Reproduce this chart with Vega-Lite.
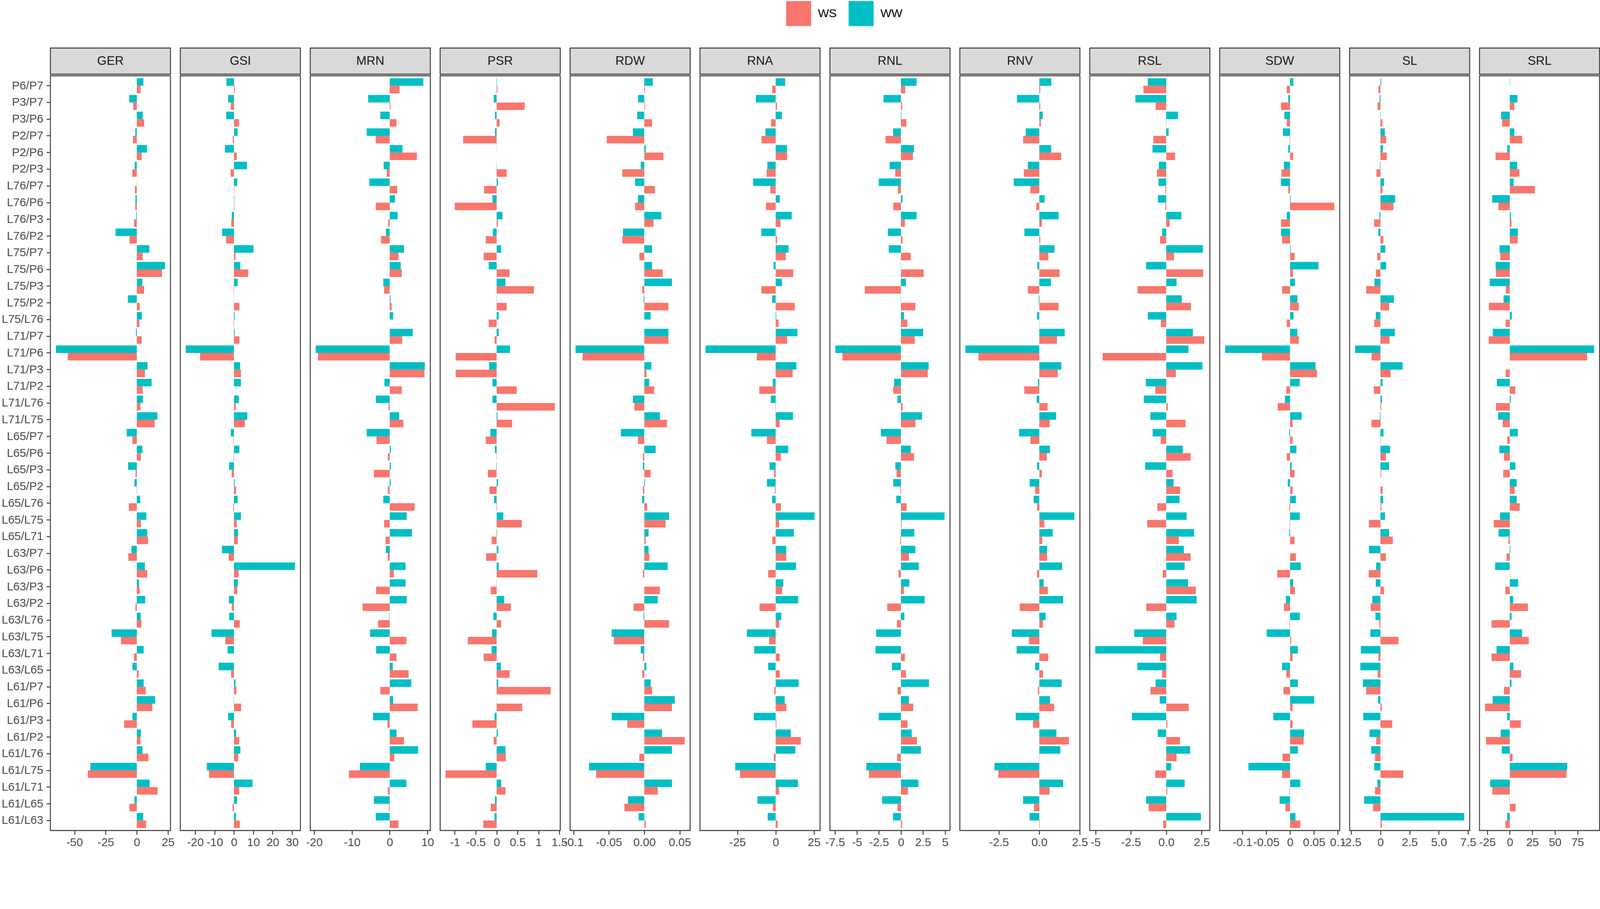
{
  "$schema": "https://vega.github.io/schema/vega-lite/v6.json",
  "background": "white",
  "padding": {"left": 2, "top": 2, "right": 0, "bottom": 0},
  "datasets": {
    "d": [
      {"t":"GER","p":"P6/P7","e":"WW","v":5.3},{"t":"GER","p":"P6/P7","e":"WS","v":3.1},
      {"t":"GER","p":"P3/P7","e":"WW","v":-6.1},{"t":"GER","p":"P3/P7","e":"WS","v":-2.9},
      {"t":"GER","p":"P3/P6","e":"WW","v":4.7},{"t":"GER","p":"P3/P6","e":"WS","v":5.9},
      {"t":"GER","p":"P2/P7","e":"WW","v":-1.2},{"t":"GER","p":"P2/P7","e":"WS","v":-3.1},
      {"t":"GER","p":"P2/P6","e":"WW","v":8.1},{"t":"GER","p":"P2/P6","e":"WS","v":3.9},
      {"t":"GER","p":"P2/P3","e":"WW","v":-1.7},{"t":"GER","p":"P2/P3","e":"WS","v":-3.6},
      {"t":"GER","p":"L76/P7","e":"WW","v":-0.1},{"t":"GER","p":"L76/P7","e":"WS","v":-1.5},
      {"t":"GER","p":"L76/P6","e":"WW","v":-1.1},{"t":"GER","p":"L76/P6","e":"WS","v":-1.2},
      {"t":"GER","p":"L76/P3","e":"WW","v":-0.5},{"t":"GER","p":"L76/P3","e":"WS","v":-2.2},
      {"t":"GER","p":"L76/P2","e":"WW","v":-17.1},{"t":"GER","p":"L76/P2","e":"WS","v":-5.8},
      {"t":"GER","p":"L75/P7","e":"WW","v":10.1},{"t":"GER","p":"L75/P7","e":"WS","v":4.7},
      {"t":"GER","p":"L75/P6","e":"WW","v":22.6},{"t":"GER","p":"L75/P6","e":"WS","v":20.2},
      {"t":"GER","p":"L75/P3","e":"WW","v":4.5},{"t":"GER","p":"L75/P3","e":"WS","v":5.9},
      {"t":"GER","p":"L75/P2","e":"WW","v":-7.2},{"t":"GER","p":"L75/P2","e":"WS","v":2.3},
      {"t":"GER","p":"L75/L76","e":"WW","v":4.1},{"t":"GER","p":"L75/L76","e":"WS","v":2.1},
      {"t":"GER","p":"L71/P7","e":"WW","v":-0.7},{"t":"GER","p":"L71/P7","e":"WS","v":3.9},
      {"t":"GER","p":"L71/P6","e":"WW","v":-64.9},{"t":"GER","p":"L71/P6","e":"WS","v":-55.4},
      {"t":"GER","p":"L71/P3","e":"WW","v":8.6},{"t":"GER","p":"L71/P3","e":"WS","v":6.6},
      {"t":"GER","p":"L71/P2","e":"WW","v":11.9},{"t":"GER","p":"L71/P2","e":"WS","v":4.7},
      {"t":"GER","p":"L71/L76","e":"WW","v":4.9},{"t":"GER","p":"L71/L76","e":"WS","v":2.9},
      {"t":"GER","p":"L71/L75","e":"WW","v":16.5},{"t":"GER","p":"L71/L75","e":"WS","v":14.3},
      {"t":"GER","p":"L65/P7","e":"WW","v":-8.1},{"t":"GER","p":"L65/P7","e":"WS","v":-3.6},
      {"t":"GER","p":"L65/P6","e":"WW","v":4.5},{"t":"GER","p":"L65/P6","e":"WS","v":3.3},
      {"t":"GER","p":"L65/P3","e":"WW","v":-7.0},{"t":"GER","p":"L65/P3","e":"WS","v":-1.0},
      {"t":"GER","p":"L65/P2","e":"WW","v":-1.9},{"t":"GER","p":"L65/P2","e":"WS","v":0.3},
      {"t":"GER","p":"L65/L76","e":"WW","v":2.7},{"t":"GER","p":"L65/L76","e":"WS","v":-6.4},
      {"t":"GER","p":"L65/L75","e":"WW","v":7.7},{"t":"GER","p":"L65/L75","e":"WS","v":3.3},
      {"t":"GER","p":"L65/L71","e":"WW","v":8.4},{"t":"GER","p":"L65/L71","e":"WS","v":9.1},
      {"t":"GER","p":"L63/P7","e":"WW","v":-4.3},{"t":"GER","p":"L63/P7","e":"WS","v":-6.8},
      {"t":"GER","p":"L63/P6","e":"WW","v":6.5},{"t":"GER","p":"L63/P6","e":"WS","v":8.4},
      {"t":"GER","p":"L63/P3","e":"WW","v":1.7},{"t":"GER","p":"L63/P3","e":"WS","v":2.3},
      {"t":"GER","p":"L63/P2","e":"WW","v":6.7},{"t":"GER","p":"L63/P2","e":"WS","v":-1.1},
      {"t":"GER","p":"L63/L76","e":"WW","v":3.1},{"t":"GER","p":"L63/L76","e":"WS","v":3.7},
      {"t":"GER","p":"L63/L75","e":"WW","v":-20.2},{"t":"GER","p":"L63/L75","e":"WS","v":-12.7},
      {"t":"GER","p":"L63/L71","e":"WW","v":5.5},{"t":"GER","p":"L63/L71","e":"WS","v":-2.3},
      {"t":"GER","p":"L63/L65","e":"WW","v":-3.5},{"t":"GER","p":"L63/L65","e":"WS","v":1.5},
      {"t":"GER","p":"L61/P7","e":"WW","v":5.5},{"t":"GER","p":"L61/P7","e":"WS","v":7.1},
      {"t":"GER","p":"L61/P6","e":"WW","v":14.7},{"t":"GER","p":"L61/P6","e":"WS","v":12.5},
      {"t":"GER","p":"L61/P3","e":"WW","v":-3.5},{"t":"GER","p":"L61/P3","e":"WS","v":-10.2},
      {"t":"GER","p":"L61/P2","e":"WW","v":3.3},{"t":"GER","p":"L61/P2","e":"WS","v":2.9},
      {"t":"GER","p":"L61/L76","e":"WW","v":4.5},{"t":"GER","p":"L61/L76","e":"WS","v":9.3},
      {"t":"GER","p":"L61/L75","e":"WW","v":-37.3},{"t":"GER","p":"L61/L75","e":"WS","v":-39.3},
      {"t":"GER","p":"L61/L71","e":"WW","v":10.3},{"t":"GER","p":"L61/L71","e":"WS","v":16.7},
      {"t":"GER","p":"L61/L65","e":"WW","v":-1.9},{"t":"GER","p":"L61/L65","e":"WS","v":-5.9},
      {"t":"GER","p":"L61/L63","e":"WW","v":5.1},{"t":"GER","p":"L61/L63","e":"WS","v":7.5},

      {"t":"GSI","p":"P6/P7","e":"WW","v":-3.9},{"t":"GSI","p":"P6/P7","e":"WS","v":0.4},
      {"t":"GSI","p":"P3/P7","e":"WW","v":-3.0},{"t":"GSI","p":"P3/P7","e":"WS","v":-1.6},
      {"t":"GSI","p":"P3/P6","e":"WW","v":-4.0},{"t":"GSI","p":"P3/P6","e":"WS","v":2.6},
      {"t":"GSI","p":"P2/P7","e":"WW","v":1.9},{"t":"GSI","p":"P2/P7","e":"WS","v":-0.6},
      {"t":"GSI","p":"P2/P6","e":"WW","v":-4.6},{"t":"GSI","p":"P2/P6","e":"WS","v":1.4},
      {"t":"GSI","p":"P2/P3","e":"WW","v":6.7},{"t":"GSI","p":"P2/P3","e":"WS","v":-1.7},
      {"t":"GSI","p":"L76/P7","e":"WW","v":1.7},{"t":"GSI","p":"L76/P7","e":"WS","v":0.2},
      {"t":"GSI","p":"L76/P6","e":"WW","v":0.2},{"t":"GSI","p":"L76/P6","e":"WS","v":0.2},
      {"t":"GSI","p":"L76/P3","e":"WW","v":-1.1},{"t":"GSI","p":"L76/P3","e":"WS","v":-1.4},
      {"t":"GSI","p":"L76/P2","e":"WW","v":-6.1},{"t":"GSI","p":"L76/P2","e":"WS","v":-4.1},
      {"t":"GSI","p":"L75/P7","e":"WW","v":10.1},{"t":"GSI","p":"L75/P7","e":"WS","v":0.8},
      {"t":"GSI","p":"L75/P6","e":"WW","v":3.3},{"t":"GSI","p":"L75/P6","e":"WS","v":7.4},
      {"t":"GSI","p":"L75/P3","e":"WW","v":1.9},{"t":"GSI","p":"L75/P3","e":"WS","v":-0.2},
      {"t":"GSI","p":"L75/P2","e":"WW","v":-0.1},{"t":"GSI","p":"L75/P2","e":"WS","v":2.8},
      {"t":"GSI","p":"L75/L76","e":"WW","v":0.4},{"t":"GSI","p":"L75/L76","e":"WS","v":-0.2},
      {"t":"GSI","p":"L71/P7","e":"WW","v":0.4},{"t":"GSI","p":"L71/P7","e":"WS","v":2.8},
      {"t":"GSI","p":"L71/P6","e":"WW","v":-24.9},{"t":"GSI","p":"L71/P6","e":"WS","v":-17.5},
      {"t":"GSI","p":"L71/P3","e":"WW","v":3.2},{"t":"GSI","p":"L71/P3","e":"WS","v":3.6},
      {"t":"GSI","p":"L71/P2","e":"WW","v":3.6},{"t":"GSI","p":"L71/P2","e":"WS","v":0.0},
      {"t":"GSI","p":"L71/L76","e":"WW","v":2.5},{"t":"GSI","p":"L71/L76","e":"WS","v":0.9},
      {"t":"GSI","p":"L71/L75","e":"WW","v":6.9},{"t":"GSI","p":"L71/L75","e":"WS","v":5.6},
      {"t":"GSI","p":"L65/P7","e":"WW","v":-1.6},{"t":"GSI","p":"L65/P7","e":"WS","v":-0.2},
      {"t":"GSI","p":"L65/P6","e":"WW","v":2.8},{"t":"GSI","p":"L65/P6","e":"WS","v":-0.2},
      {"t":"GSI","p":"L65/P3","e":"WW","v":-2.5},{"t":"GSI","p":"L65/P3","e":"WS","v":-1.2},
      {"t":"GSI","p":"L65/P2","e":"WW","v":0.4},{"t":"GSI","p":"L65/P2","e":"WS","v":1.1},
      {"t":"GSI","p":"L65/L76","e":"WW","v":1.9},{"t":"GSI","p":"L65/L76","e":"WS","v":-0.4},
      {"t":"GSI","p":"L65/L75","e":"WW","v":3.6},{"t":"GSI","p":"L65/L75","e":"WS","v":1.4},
      {"t":"GSI","p":"L65/L71","e":"WW","v":2.1},{"t":"GSI","p":"L65/L71","e":"WS","v":2.0},
      {"t":"GSI","p":"L63/P7","e":"WW","v":-6.2},{"t":"GSI","p":"L63/P7","e":"WS","v":-2.7},
      {"t":"GSI","p":"L63/P6","e":"WW","v":31.5},{"t":"GSI","p":"L63/P6","e":"WS","v":2.4},
      {"t":"GSI","p":"L63/P3","e":"WW","v":2.0},{"t":"GSI","p":"L63/P3","e":"WS","v":1.7},
      {"t":"GSI","p":"L63/P2","e":"WW","v":-2.6},{"t":"GSI","p":"L63/P2","e":"WS","v":-1.1},
      {"t":"GSI","p":"L63/L76","e":"WW","v":-2.5},{"t":"GSI","p":"L63/L76","e":"WS","v":3.0},
      {"t":"GSI","p":"L63/L75","e":"WW","v":-11.6},{"t":"GSI","p":"L63/L75","e":"WS","v":-4.5},
      {"t":"GSI","p":"L63/L71","e":"WW","v":-3.3},{"t":"GSI","p":"L63/L71","e":"WS","v":0.0},
      {"t":"GSI","p":"L63/L65","e":"WW","v":-7.9},{"t":"GSI","p":"L63/L65","e":"WS","v":-1.5},
      {"t":"GSI","p":"L61/P7","e":"WW","v":0.8},{"t":"GSI","p":"L61/P7","e":"WS","v":1.3},
      {"t":"GSI","p":"L61/P6","e":"WW","v":-0.1},{"t":"GSI","p":"L61/P6","e":"WS","v":3.7},
      {"t":"GSI","p":"L61/P3","e":"WW","v":-3.0},{"t":"GSI","p":"L61/P3","e":"WS","v":-1.5},
      {"t":"GSI","p":"L61/P2","e":"WW","v":1.1},{"t":"GSI","p":"L61/P2","e":"WS","v":2.7},
      {"t":"GSI","p":"L61/L76","e":"WW","v":3.3},{"t":"GSI","p":"L61/L76","e":"WS","v":2.2},
      {"t":"GSI","p":"L61/L75","e":"WW","v":-14.0},{"t":"GSI","p":"L61/L75","e":"WS","v":-12.9},
      {"t":"GSI","p":"L61/L71","e":"WW","v":9.6},{"t":"GSI","p":"L61/L71","e":"WS","v":2.7},
      {"t":"GSI","p":"L61/L65","e":"WW","v":1.6},{"t":"GSI","p":"L61/L65","e":"WS","v":-0.7},
      {"t":"GSI","p":"L61/L63","e":"WW","v":1.0},{"t":"GSI","p":"L61/L63","e":"WS","v":3.0},

      {"t":"MRN","p":"P6/P7","e":"WW","v":8.9},{"t":"MRN","p":"P6/P7","e":"WS","v":2.6},
      {"t":"MRN","p":"P3/P7","e":"WW","v":-5.7},{"t":"MRN","p":"P3/P7","e":"WS","v":0.2},
      {"t":"MRN","p":"P3/P6","e":"WW","v":-2.5},{"t":"MRN","p":"P3/P6","e":"WS","v":1.8},
      {"t":"MRN","p":"P2/P7","e":"WW","v":-6.1},{"t":"MRN","p":"P2/P7","e":"WS","v":-3.7},
      {"t":"MRN","p":"P2/P6","e":"WW","v":3.4},{"t":"MRN","p":"P2/P6","e":"WS","v":7.2},
      {"t":"MRN","p":"P2/P3","e":"WW","v":-1.6},{"t":"MRN","p":"P2/P3","e":"WS","v":-0.8},
      {"t":"MRN","p":"L76/P7","e":"WW","v":-5.4},{"t":"MRN","p":"L76/P7","e":"WS","v":2.0},
      {"t":"MRN","p":"L76/P6","e":"WW","v":1.4},{"t":"MRN","p":"L76/P6","e":"WS","v":-3.7},
      {"t":"MRN","p":"L76/P3","e":"WW","v":2.1},{"t":"MRN","p":"L76/P3","e":"WS","v":-0.4},
      {"t":"MRN","p":"L76/P2","e":"WW","v":-1.0},{"t":"MRN","p":"L76/P2","e":"WS","v":-2.3},
      {"t":"MRN","p":"L75/P7","e":"WW","v":3.8},{"t":"MRN","p":"L75/P7","e":"WS","v":2.3},
      {"t":"MRN","p":"L75/P6","e":"WW","v":2.9},{"t":"MRN","p":"L75/P6","e":"WS","v":3.2},
      {"t":"MRN","p":"L75/P3","e":"WW","v":-1.7},{"t":"MRN","p":"L75/P3","e":"WS","v":-1.5},
      {"t":"MRN","p":"L75/P2","e":"WW","v":0.2},{"t":"MRN","p":"L75/P2","e":"WS","v":0.5},
      {"t":"MRN","p":"L75/L76","e":"WW","v":0.9},{"t":"MRN","p":"L75/L76","e":"WS","v":0.0},
      {"t":"MRN","p":"L71/P7","e":"WW","v":6.1},{"t":"MRN","p":"L71/P7","e":"WS","v":3.3},
      {"t":"MRN","p":"L71/P6","e":"WW","v":-19.6},{"t":"MRN","p":"L71/P6","e":"WS","v":-19.0},
      {"t":"MRN","p":"L71/P3","e":"WW","v":9.3},{"t":"MRN","p":"L71/P3","e":"WS","v":9.2},
      {"t":"MRN","p":"L71/P2","e":"WW","v":-1.4},{"t":"MRN","p":"L71/P2","e":"WS","v":3.2},
      {"t":"MRN","p":"L71/L76","e":"WW","v":-3.7},{"t":"MRN","p":"L71/L76","e":"WS","v":-0.3},
      {"t":"MRN","p":"L71/L75","e":"WW","v":2.5},{"t":"MRN","p":"L71/L75","e":"WS","v":3.6},
      {"t":"MRN","p":"L65/P7","e":"WW","v":-6.1},{"t":"MRN","p":"L65/P7","e":"WS","v":-3.5},
      {"t":"MRN","p":"L65/P6","e":"WW","v":0.3},{"t":"MRN","p":"L65/P6","e":"WS","v":-0.5},
      {"t":"MRN","p":"L65/P3","e":"WW","v":0.3},{"t":"MRN","p":"L65/P3","e":"WS","v":-4.2},
      {"t":"MRN","p":"L65/P2","e":"WW","v":0.25},{"t":"MRN","p":"L65/P2","e":"WS","v":-0.5},
      {"t":"MRN","p":"L65/L76","e":"WW","v":-1.7},{"t":"MRN","p":"L65/L76","e":"WS","v":6.6},
      {"t":"MRN","p":"L65/L75","e":"WW","v":4.5},{"t":"MRN","p":"L65/L75","e":"WS","v":-1.5},
      {"t":"MRN","p":"L65/L71","e":"WW","v":5.9},{"t":"MRN","p":"L65/L71","e":"WS","v":-1.1},
      {"t":"MRN","p":"L63/P7","e":"WW","v":-1.0},{"t":"MRN","p":"L63/P7","e":"WS","v":-0.5},
      {"t":"MRN","p":"L63/P6","e":"WW","v":4.2},{"t":"MRN","p":"L63/P6","e":"WS","v":1.1},
      {"t":"MRN","p":"L63/P3","e":"WW","v":4.2},{"t":"MRN","p":"L63/P3","e":"WS","v":-3.6},
      {"t":"MRN","p":"L63/P2","e":"WW","v":4.5},{"t":"MRN","p":"L63/P2","e":"WS","v":-7.2},
      {"t":"MRN","p":"L63/L76","e":"WW","v":-0.1},{"t":"MRN","p":"L63/L76","e":"WS","v":-3.1},
      {"t":"MRN","p":"L63/L75","e":"WW","v":-5.2},{"t":"MRN","p":"L63/L75","e":"WS","v":4.4},
      {"t":"MRN","p":"L63/L71","e":"WW","v":-3.6},{"t":"MRN","p":"L63/L71","e":"WS","v":1.8},
      {"t":"MRN","p":"L63/L65","e":"WW","v":0.8},{"t":"MRN","p":"L63/L65","e":"WS","v":5.0},
      {"t":"MRN","p":"L61/P7","e":"WW","v":5.7},{"t":"MRN","p":"L61/P7","e":"WS","v":-2.5},
      {"t":"MRN","p":"L61/P6","e":"WW","v":0.9},{"t":"MRN","p":"L61/P6","e":"WS","v":7.4},
      {"t":"MRN","p":"L61/P3","e":"WW","v":-4.4},{"t":"MRN","p":"L61/P3","e":"WS","v":-0.6},
      {"t":"MRN","p":"L61/P2","e":"WW","v":1.8},{"t":"MRN","p":"L61/P2","e":"WS","v":3.8},
      {"t":"MRN","p":"L61/L76","e":"WW","v":7.5},{"t":"MRN","p":"L61/L76","e":"WS","v":1.2},
      {"t":"MRN","p":"L61/L75","e":"WW","v":-7.9},{"t":"MRN","p":"L61/L75","e":"WS","v":-10.8},
      {"t":"MRN","p":"L61/L71","e":"WW","v":4.4},{"t":"MRN","p":"L61/L71","e":"WS","v":-0.5},
      {"t":"MRN","p":"L61/L65","e":"WW","v":-4.2},{"t":"MRN","p":"L61/L65","e":"WS","v":-0.2},
      {"t":"MRN","p":"L61/L63","e":"WW","v":-3.7},{"t":"MRN","p":"L61/L63","e":"WS","v":2.3},

      {"t":"PSR","p":"P6/P7","e":"WW","v":-0.01},{"t":"PSR","p":"P6/P7","e":"WS","v":0.02},
      {"t":"PSR","p":"P3/P7","e":"WW","v":-0.07},{"t":"PSR","p":"P3/P7","e":"WS","v":0.67},
      {"t":"PSR","p":"P3/P6","e":"WW","v":-0.04},{"t":"PSR","p":"P3/P6","e":"WS","v":0.07},
      {"t":"PSR","p":"P2/P7","e":"WW","v":-0.04},{"t":"PSR","p":"P2/P7","e":"WS","v":-0.8},
      {"t":"PSR","p":"P2/P6","e":"WW","v":0.003},{"t":"PSR","p":"P2/P6","e":"WS","v":0},
      {"t":"PSR","p":"P2/P3","e":"WW","v":-0.005},{"t":"PSR","p":"P2/P3","e":"WS","v":0.24},
      {"t":"PSR","p":"L76/P7","e":"WW","v":0.03},{"t":"PSR","p":"L76/P7","e":"WS","v":-0.3},
      {"t":"PSR","p":"L76/P6","e":"WW","v":-0.1},{"t":"PSR","p":"L76/P6","e":"WS","v":-1.0},
      {"t":"PSR","p":"L76/P3","e":"WW","v":0.14},{"t":"PSR","p":"L76/P3","e":"WS","v":0.03},
      {"t":"PSR","p":"L76/P2","e":"WW","v":-0.09},{"t":"PSR","p":"L76/P2","e":"WS","v":-0.26},
      {"t":"PSR","p":"L75/P7","e":"WW","v":0.11},{"t":"PSR","p":"L75/P7","e":"WS","v":-0.31},
      {"t":"PSR","p":"L75/P6","e":"WW","v":-0.19},{"t":"PSR","p":"L75/P6","e":"WS","v":0.31},
      {"t":"PSR","p":"L75/P3","e":"WW","v":0.21},{"t":"PSR","p":"L75/P3","e":"WS","v":0.89},
      {"t":"PSR","p":"L75/P2","e":"WW","v":-0.005},{"t":"PSR","p":"L75/P2","e":"WS","v":0.24},
      {"t":"PSR","p":"L75/L76","e":"WW","v":0.05},{"t":"PSR","p":"L75/L76","e":"WS","v":-0.19},
      {"t":"PSR","p":"L71/P7","e":"WW","v":0.05},{"t":"PSR","p":"L71/P7","e":"WS","v":-0.05},
      {"t":"PSR","p":"L71/P6","e":"WW","v":0.32},{"t":"PSR","p":"L71/P6","e":"WS","v":-0.98},
      {"t":"PSR","p":"L71/P3","e":"WW","v":-0.18},{"t":"PSR","p":"L71/P3","e":"WS","v":-0.98},
      {"t":"PSR","p":"L71/P2","e":"WW","v":-0.1},{"t":"PSR","p":"L71/P2","e":"WS","v":0.48},
      {"t":"PSR","p":"L71/L76","e":"WW","v":-0.1},{"t":"PSR","p":"L71/L76","e":"WS","v":1.39},
      {"t":"PSR","p":"L71/L75","e":"WW","v":0.02},{"t":"PSR","p":"L71/L75","e":"WS","v":0.37},
      {"t":"PSR","p":"L65/P7","e":"WW","v":-0.15},{"t":"PSR","p":"L65/P7","e":"WS","v":-0.26},
      {"t":"PSR","p":"L65/P6","e":"WW","v":-0.04},{"t":"PSR","p":"L65/P6","e":"WS","v":-0.005},
      {"t":"PSR","p":"L65/P3","e":"WW","v":-0.01},{"t":"PSR","p":"L65/P3","e":"WS","v":-0.21},
      {"t":"PSR","p":"L65/P2","e":"WW","v":0.03},{"t":"PSR","p":"L65/P2","e":"WS","v":-0.17},
      {"t":"PSR","p":"L65/L76","e":"WW","v":-0.06},{"t":"PSR","p":"L65/L76","e":"WS","v":0.01},
      {"t":"PSR","p":"L65/L75","e":"WW","v":0.16},{"t":"PSR","p":"L65/L75","e":"WS","v":0.6},
      {"t":"PSR","p":"L65/L71","e":"WW","v":0.01},{"t":"PSR","p":"L65/L71","e":"WS","v":-0.12},
      {"t":"PSR","p":"L63/P7","e":"WW","v":0.04},{"t":"PSR","p":"L63/P7","e":"WS","v":-0.25},
      {"t":"PSR","p":"L63/P6","e":"WW","v":0.05},{"t":"PSR","p":"L63/P6","e":"WS","v":0.97},
      {"t":"PSR","p":"L63/P3","e":"WW","v":-0.005},{"t":"PSR","p":"L63/P3","e":"WS","v":-0.14},
      {"t":"PSR","p":"L63/P2","e":"WW","v":0.18},{"t":"PSR","p":"L63/P2","e":"WS","v":0.34},
      {"t":"PSR","p":"L63/L76","e":"WW","v":-0.08},{"t":"PSR","p":"L63/L76","e":"WS","v":0.11},
      {"t":"PSR","p":"L63/L75","e":"WW","v":-0.11},{"t":"PSR","p":"L63/L75","e":"WS","v":-0.69},
      {"t":"PSR","p":"L63/L71","e":"WW","v":-0.12},{"t":"PSR","p":"L63/L71","e":"WS","v":-0.31},
      {"t":"PSR","p":"L63/L65","e":"WW","v":0.1},{"t":"PSR","p":"L63/L65","e":"WS","v":0.31},
      {"t":"PSR","p":"L61/P7","e":"WW","v":0.04},{"t":"PSR","p":"L61/P7","e":"WS","v":1.29},
      {"t":"PSR","p":"L61/P6","e":"WW","v":0.003},{"t":"PSR","p":"L61/P6","e":"WS","v":0.61},
      {"t":"PSR","p":"L61/P3","e":"WW","v":-0.05},{"t":"PSR","p":"L61/P3","e":"WS","v":-0.58},
      {"t":"PSR","p":"L61/P2","e":"WW","v":0.03},{"t":"PSR","p":"L61/P2","e":"WS","v":-0.07},
      {"t":"PSR","p":"L61/L76","e":"WW","v":0.21},{"t":"PSR","p":"L61/L76","e":"WS","v":0.22},
      {"t":"PSR","p":"L61/L75","e":"WW","v":-0.26},{"t":"PSR","p":"L61/L75","e":"WS","v":-1.22},
      {"t":"PSR","p":"L61/L71","e":"WW","v":0.11},{"t":"PSR","p":"L61/L71","e":"WS","v":0.21},
      {"t":"PSR","p":"L61/L65","e":"WW","v":-0.04},{"t":"PSR","p":"L61/L65","e":"WS","v":-0.14},
      {"t":"PSR","p":"L61/L63","e":"WW","v":-0.05},{"t":"PSR","p":"L61/L63","e":"WS","v":-0.32},

      {"t":"RDW","p":"P6/P7","e":"WW","v":0.012},{"t":"RDW","p":"P6/P7","e":"WS","v":0.001},
      {"t":"RDW","p":"P3/P7","e":"WW","v":-0.0088},{"t":"RDW","p":"P3/P7","e":"WS","v":0.001},
      {"t":"RDW","p":"P3/P6","e":"WW","v":-0.01},{"t":"RDW","p":"P3/P6","e":"WS","v":0.011},
      {"t":"RDW","p":"P2/P7","e":"WW","v":-0.016},{"t":"RDW","p":"P2/P7","e":"WS","v":-0.053},
      {"t":"RDW","p":"P2/P6","e":"WW","v":0.002},{"t":"RDW","p":"P2/P6","e":"WS","v":0.027},
      {"t":"RDW","p":"P2/P3","e":"WW","v":-0.005},{"t":"RDW","p":"P2/P3","e":"WS","v":-0.031},
      {"t":"RDW","p":"L76/P7","e":"WW","v":-0.013},{"t":"RDW","p":"L76/P7","e":"WS","v":0.015},
      {"t":"RDW","p":"L76/P6","e":"WW","v":-0.0088},{"t":"RDW","p":"L76/P6","e":"WS","v":-0.013},
      {"t":"RDW","p":"L76/P3","e":"WW","v":0.024},{"t":"RDW","p":"L76/P3","e":"WS","v":0.013},
      {"t":"RDW","p":"L76/P2","e":"WW","v":-0.03},{"t":"RDW","p":"L76/P2","e":"WS","v":-0.031},
      {"t":"RDW","p":"L75/P7","e":"WW","v":0.011},{"t":"RDW","p":"L75/P7","e":"WS","v":-0.007},
      {"t":"RDW","p":"L75/P6","e":"WW","v":0.011},{"t":"RDW","p":"L75/P6","e":"WS","v":0.026},
      {"t":"RDW","p":"L75/P3","e":"WW","v":0.039},{"t":"RDW","p":"L75/P3","e":"WS","v":-0.003},
      {"t":"RDW","p":"L75/P2","e":"WW","v":-0.001},{"t":"RDW","p":"L75/P2","e":"WS","v":0.034},
      {"t":"RDW","p":"L75/L76","e":"WW","v":0.009},{"t":"RDW","p":"L75/L76","e":"WS","v":0},
      {"t":"RDW","p":"L71/P7","e":"WW","v":0.034},{"t":"RDW","p":"L71/P7","e":"WS","v":0.034},
      {"t":"RDW","p":"L71/P6","e":"WW","v":-0.097},{"t":"RDW","p":"L71/P6","e":"WS","v":-0.087},
      {"t":"RDW","p":"L71/P3","e":"WW","v":0.01},{"t":"RDW","p":"L71/P3","e":"WS","v":0.003},
      {"t":"RDW","p":"L71/P2","e":"WW","v":0.007},{"t":"RDW","p":"L71/P2","e":"WS","v":0.014},
      {"t":"RDW","p":"L71/L76","e":"WW","v":-0.016},{"t":"RDW","p":"L71/L76","e":"WS","v":-0.014},
      {"t":"RDW","p":"L71/L75","e":"WW","v":0.022},{"t":"RDW","p":"L71/L75","e":"WS","v":0.032},
      {"t":"RDW","p":"L65/P7","e":"WW","v":-0.033},{"t":"RDW","p":"L65/P7","e":"WS","v":-0.009},
      {"t":"RDW","p":"L65/P6","e":"WW","v":0.016},{"t":"RDW","p":"L65/P6","e":"WS","v":-0.002},
      {"t":"RDW","p":"L65/P3","e":"WW","v":-0.002},{"t":"RDW","p":"L65/P3","e":"WS","v":0.009},
      {"t":"RDW","p":"L65/P2","e":"WW","v":0.001},{"t":"RDW","p":"L65/P2","e":"WS","v":-0.002},
      {"t":"RDW","p":"L65/L76","e":"WW","v":-0.003},{"t":"RDW","p":"L65/L76","e":"WS","v":0.004},
      {"t":"RDW","p":"L65/L75","e":"WW","v":0.035},{"t":"RDW","p":"L65/L75","e":"WS","v":0.03},
      {"t":"RDW","p":"L65/L71","e":"WW","v":0.006},{"t":"RDW","p":"L65/L71","e":"WS","v":0.002},
      {"t":"RDW","p":"L63/P7","e":"WW","v":0.006},{"t":"RDW","p":"L63/P7","e":"WS","v":0.007},
      {"t":"RDW","p":"L63/P6","e":"WW","v":0.033},{"t":"RDW","p":"L63/P6","e":"WS","v":-0.002},
      {"t":"RDW","p":"L63/P3","e":"WW","v":0},{"t":"RDW","p":"L63/P3","e":"WS","v":0.022},
      {"t":"RDW","p":"L63/P2","e":"WW","v":0.019},{"t":"RDW","p":"L63/P2","e":"WS","v":-0.015},
      {"t":"RDW","p":"L63/L76","e":"WW","v":-0.001},{"t":"RDW","p":"L63/L76","e":"WS","v":0.035},
      {"t":"RDW","p":"L63/L75","e":"WW","v":-0.046},{"t":"RDW","p":"L63/L75","e":"WS","v":-0.043},
      {"t":"RDW","p":"L63/L71","e":"WW","v":-0.005},{"t":"RDW","p":"L63/L71","e":"WS","v":-0.002},
      {"t":"RDW","p":"L63/L65","e":"WW","v":0.003},{"t":"RDW","p":"L63/L65","e":"WS","v":-0.003},
      {"t":"RDW","p":"L61/P7","e":"WW","v":0.009},{"t":"RDW","p":"L61/P7","e":"WS","v":0.011},
      {"t":"RDW","p":"L61/P6","e":"WW","v":0.043},{"t":"RDW","p":"L61/P6","e":"WS","v":0.039},
      {"t":"RDW","p":"L61/P3","e":"WW","v":-0.046},{"t":"RDW","p":"L61/P3","e":"WS","v":-0.024},
      {"t":"RDW","p":"L61/P2","e":"WW","v":0.025},{"t":"RDW","p":"L61/P2","e":"WS","v":0.057},
      {"t":"RDW","p":"L61/L76","e":"WW","v":0.039},{"t":"RDW","p":"L61/L76","e":"WS","v":-0.007},
      {"t":"RDW","p":"L61/L75","e":"WW","v":-0.078},{"t":"RDW","p":"L61/L75","e":"WS","v":-0.068},
      {"t":"RDW","p":"L61/L71","e":"WW","v":0.039},{"t":"RDW","p":"L61/L71","e":"WS","v":0.019},
      {"t":"RDW","p":"L61/L65","e":"WW","v":-0.023},{"t":"RDW","p":"L61/L65","e":"WS","v":-0.028},
      {"t":"RDW","p":"L61/L63","e":"WW","v":-0.008},{"t":"RDW","p":"L61/L63","e":"WS","v":0.002},

      {"t":"RNA","p":"P6/P7","e":"WW","v":6.2},{"t":"RNA","p":"P6/P7","e":"WS","v":-2.3},
      {"t":"RNA","p":"P3/P7","e":"WW","v":-12.9},{"t":"RNA","p":"P3/P7","e":"WS","v":0.9},
      {"t":"RNA","p":"P3/P6","e":"WW","v":4.1},{"t":"RNA","p":"P3/P6","e":"WS","v":-3.0},
      {"t":"RNA","p":"P2/P7","e":"WW","v":-6.7},{"t":"RNA","p":"P2/P7","e":"WS","v":-9.2},
      {"t":"RNA","p":"P2/P6","e":"WW","v":7.3},{"t":"RNA","p":"P2/P6","e":"WS","v":7.5},
      {"t":"RNA","p":"P2/P3","e":"WW","v":-5.4},{"t":"RNA","p":"P2/P3","e":"WS","v":-5.9},
      {"t":"RNA","p":"L76/P7","e":"WW","v":-14.7},{"t":"RNA","p":"L76/P7","e":"WS","v":-3.5},
      {"t":"RNA","p":"L76/P6","e":"WW","v":2.7},{"t":"RNA","p":"L76/P6","e":"WS","v":-6.3},
      {"t":"RNA","p":"L76/P3","e":"WW","v":10.5},{"t":"RNA","p":"L76/P3","e":"WS","v":3.1},
      {"t":"RNA","p":"L76/P2","e":"WW","v":-9.4},{"t":"RNA","p":"L76/P2","e":"WS","v":0.9},
      {"t":"RNA","p":"L75/P7","e":"WW","v":8.4},{"t":"RNA","p":"L75/P7","e":"WS","v":6.6},
      {"t":"RNA","p":"L75/P6","e":"WW","v":-1.4},{"t":"RNA","p":"L75/P6","e":"WS","v":11.5},
      {"t":"RNA","p":"L75/P3","e":"WW","v":4.1},{"t":"RNA","p":"L75/P3","e":"WS","v":-9.3},
      {"t":"RNA","p":"L75/P2","e":"WW","v":-2.3},{"t":"RNA","p":"L75/P2","e":"WS","v":12.5},
      {"t":"RNA","p":"L75/L76","e":"WW","v":0.4},{"t":"RNA","p":"L75/L76","e":"WS","v":1.9},
      {"t":"RNA","p":"L71/P7","e":"WW","v":14.2},{"t":"RNA","p":"L71/P7","e":"WS","v":7.5},
      {"t":"RNA","p":"L71/P6","e":"WW","v":-45.8},{"t":"RNA","p":"L71/P6","e":"WS","v":-12.3},
      {"t":"RNA","p":"L71/P3","e":"WW","v":13.5},{"t":"RNA","p":"L71/P3","e":"WS","v":11.1},
      {"t":"RNA","p":"L71/P2","e":"WW","v":-1.9},{"t":"RNA","p":"L71/P2","e":"WS","v":-10.7},
      {"t":"RNA","p":"L71/L76","e":"WW","v":-3.2},{"t":"RNA","p":"L71/L76","e":"WS","v":-0.2},
      {"t":"RNA","p":"L71/L75","e":"WW","v":11.3},{"t":"RNA","p":"L71/L75","e":"WS","v":2.6},
      {"t":"RNA","p":"L65/P7","e":"WW","v":-15.9},{"t":"RNA","p":"L65/P7","e":"WS","v":-5.7},
      {"t":"RNA","p":"L65/P6","e":"WW","v":8.2},{"t":"RNA","p":"L65/P6","e":"WS","v":3.4},
      {"t":"RNA","p":"L65/P3","e":"WW","v":-4.0},{"t":"RNA","p":"L65/P3","e":"WS","v":-1.1},
      {"t":"RNA","p":"L65/P2","e":"WW","v":-5.7},{"t":"RNA","p":"L65/P2","e":"WS","v":-0.5},
      {"t":"RNA","p":"L65/L76","e":"WW","v":-2.3},{"t":"RNA","p":"L65/L76","e":"WS","v":3.5},
      {"t":"RNA","p":"L65/L75","e":"WW","v":25.4},{"t":"RNA","p":"L65/L75","e":"WS","v":2.3},
      {"t":"RNA","p":"L65/L71","e":"WW","v":11.9},{"t":"RNA","p":"L65/L71","e":"WS","v":-2.2},
      {"t":"RNA","p":"L63/P7","e":"WW","v":7.0},{"t":"RNA","p":"L63/P7","e":"WS","v":6.9},
      {"t":"RNA","p":"L63/P6","e":"WW","v":13.3},{"t":"RNA","p":"L63/P6","e":"WS","v":-4.9},
      {"t":"RNA","p":"L63/P3","e":"WW","v":5.0},{"t":"RNA","p":"L63/P3","e":"WS","v":4.3},
      {"t":"RNA","p":"L63/P2","e":"WW","v":14.7},{"t":"RNA","p":"L63/P2","e":"WS","v":-10.5},
      {"t":"RNA","p":"L63/L76","e":"WW","v":3.7},{"t":"RNA","p":"L63/L76","e":"WS","v":2.3},
      {"t":"RNA","p":"L63/L75","e":"WW","v":-18.8},{"t":"RNA","p":"L63/L75","e":"WS","v":-4.3},
      {"t":"RNA","p":"L63/L71","e":"WW","v":-14.0},{"t":"RNA","p":"L63/L71","e":"WS","v":2.6},
      {"t":"RNA","p":"L63/L65","e":"WW","v":-4.9},{"t":"RNA","p":"L63/L65","e":"WS","v":2.7},
      {"t":"RNA","p":"L61/P7","e":"WW","v":15.0},{"t":"RNA","p":"L61/P7","e":"WS","v":-0.9},
      {"t":"RNA","p":"L61/P6","e":"WW","v":5.9},{"t":"RNA","p":"L61/P6","e":"WS","v":7.0},
      {"t":"RNA","p":"L61/P3","e":"WW","v":-14.3},{"t":"RNA","p":"L61/P3","e":"WS","v":0.5},
      {"t":"RNA","p":"L61/P2","e":"WW","v":9.9},{"t":"RNA","p":"L61/P2","e":"WS","v":16.4},
      {"t":"RNA","p":"L61/L76","e":"WW","v":12.9},{"t":"RNA","p":"L61/L76","e":"WS","v":-1.2},
      {"t":"RNA","p":"L61/L75","e":"WW","v":-26.4},{"t":"RNA","p":"L61/L75","e":"WS","v":-23.3},
      {"t":"RNA","p":"L61/L71","e":"WW","v":14.6},{"t":"RNA","p":"L61/L71","e":"WS","v":2.2},
      {"t":"RNA","p":"L61/L65","e":"WW","v":-11.9},{"t":"RNA","p":"L61/L65","e":"WS","v":-1.8},
      {"t":"RNA","p":"L61/L63","e":"WW","v":-5.2},{"t":"RNA","p":"L61/L63","e":"WS","v":1.3},

      {"t":"RNL","p":"P6/P7","e":"WW","v":1.78},{"t":"RNL","p":"P6/P7","e":"WS","v":0.49},
      {"t":"RNL","p":"P3/P7","e":"WW","v":-1.98},{"t":"RNL","p":"P3/P7","e":"WS","v":0.14},
      {"t":"RNL","p":"P3/P6","e":"WW","v":0.05},{"t":"RNL","p":"P3/P6","e":"WS","v":0.61},
      {"t":"RNL","p":"P2/P7","e":"WW","v":-0.88},{"t":"RNL","p":"P2/P7","e":"WS","v":-1.75},
      {"t":"RNL","p":"P2/P6","e":"WW","v":1.48},{"t":"RNL","p":"P2/P6","e":"WS","v":1.36},
      {"t":"RNL","p":"P2/P3","e":"WW","v":-1.28},{"t":"RNL","p":"P2/P3","e":"WS","v":-0.64},
      {"t":"RNL","p":"L76/P7","e":"WW","v":-2.52},{"t":"RNL","p":"L76/P7","e":"WS","v":-0.34},
      {"t":"RNL","p":"L76/P6","e":"WW","v":0.18},{"t":"RNL","p":"L76/P6","e":"WS","v":-0.88},
      {"t":"RNL","p":"L76/P3","e":"WW","v":1.78},{"t":"RNL","p":"L76/P3","e":"WS","v":0.45},
      {"t":"RNL","p":"L76/P2","e":"WW","v":-1.48},{"t":"RNL","p":"L76/P2","e":"WS","v":0.19},
      {"t":"RNL","p":"L75/P7","e":"WW","v":-1.38},{"t":"RNL","p":"L75/P7","e":"WS","v":1.11},
      {"t":"RNL","p":"L75/P6","e":"WW","v":-0.03},{"t":"RNL","p":"L75/P6","e":"WS","v":2.58},
      {"t":"RNL","p":"L75/P3","e":"WW","v":0.57},{"t":"RNL","p":"L75/P3","e":"WS","v":-4.1},
      {"t":"RNL","p":"L75/P2","e":"WW","v":-0.03},{"t":"RNL","p":"L75/P2","e":"WS","v":1.64},
      {"t":"RNL","p":"L75/L76","e":"WW","v":0.35},{"t":"RNL","p":"L75/L76","e":"WS","v":0.73},
      {"t":"RNL","p":"L71/P7","e":"WW","v":2.52},{"t":"RNL","p":"L71/P7","e":"WS","v":1.57},
      {"t":"RNL","p":"L71/P6","e":"WW","v":-7.44},{"t":"RNL","p":"L71/P6","e":"WS","v":-6.65},
      {"t":"RNL","p":"L71/P3","e":"WW","v":3.15},{"t":"RNL","p":"L71/P3","e":"WS","v":3.04},
      {"t":"RNL","p":"L71/P2","e":"WW","v":-0.77},{"t":"RNL","p":"L71/P2","e":"WS","v":-0.88},
      {"t":"RNL","p":"L71/L76","e":"WW","v":-0.39},{"t":"RNL","p":"L71/L76","e":"WS","v":0.19},
      {"t":"RNL","p":"L71/L75","e":"WW","v":2.4},{"t":"RNL","p":"L71/L75","e":"WS","v":1.64},
      {"t":"RNL","p":"L65/P7","e":"WW","v":-2.27},{"t":"RNL","p":"L65/P7","e":"WS","v":-1.63},
      {"t":"RNL","p":"L65/P6","e":"WW","v":1.11},{"t":"RNL","p":"L65/P6","e":"WS","v":1.48},
      {"t":"RNL","p":"L65/P3","e":"WW","v":-0.64},{"t":"RNL","p":"L65/P3","e":"WS","v":-0.5},
      {"t":"RNL","p":"L65/P2","e":"WW","v":-0.88},{"t":"RNL","p":"L65/P2","e":"WS","v":-0.09},
      {"t":"RNL","p":"L65/L76","e":"WW","v":-0.53},{"t":"RNL","p":"L65/L76","e":"WS","v":0.65},
      {"t":"RNL","p":"L65/L75","e":"WW","v":4.95},{"t":"RNL","p":"L65/L75","e":"WS","v":0.09},
      {"t":"RNL","p":"L65/L71","e":"WW","v":1.53},{"t":"RNL","p":"L65/L71","e":"WS","v":-0.09},
      {"t":"RNL","p":"L63/P7","e":"WW","v":1.64},{"t":"RNL","p":"L63/P7","e":"WS","v":0.91},
      {"t":"RNL","p":"L63/P6","e":"WW","v":2.02},{"t":"RNL","p":"L63/P6","e":"WS","v":-0.28},
      {"t":"RNL","p":"L63/P3","e":"WW","v":0.95},{"t":"RNL","p":"L63/P3","e":"WS","v":0.35},
      {"t":"RNL","p":"L63/P2","e":"WW","v":2.69},{"t":"RNL","p":"L63/P2","e":"WS","v":-1.55},
      {"t":"RNL","p":"L63/L76","e":"WW","v":0.39},{"t":"RNL","p":"L63/L76","e":"WS","v":-0.46},
      {"t":"RNL","p":"L63/L75","e":"WW","v":-2.81},{"t":"RNL","p":"L63/L75","e":"WS","v":-0.01},
      {"t":"RNL","p":"L63/L71","e":"WW","v":-2.89},{"t":"RNL","p":"L63/L71","e":"WS","v":0.45},
      {"t":"RNL","p":"L63/L65","e":"WW","v":-1.02},{"t":"RNL","p":"L63/L65","e":"WS","v":0.57},
      {"t":"RNL","p":"L61/P7","e":"WW","v":3.19},{"t":"RNL","p":"L61/P7","e":"WS","v":-0.39},
      {"t":"RNL","p":"L61/P6","e":"WW","v":0.9},{"t":"RNL","p":"L61/P6","e":"WS","v":1.4},
      {"t":"RNL","p":"L61/P3","e":"WW","v":-2.52},{"t":"RNL","p":"L61/P3","e":"WS","v":0.75},
      {"t":"RNL","p":"L61/P2","e":"WW","v":1.23},{"t":"RNL","p":"L61/P2","e":"WS","v":1.82},
      {"t":"RNL","p":"L61/L76","e":"WW","v":2.27},{"t":"RNL","p":"L61/L76","e":"WS","v":-0.43},
      {"t":"RNL","p":"L61/L75","e":"WW","v":-3.93},{"t":"RNL","p":"L61/L75","e":"WS","v":-3.64},
      {"t":"RNL","p":"L61/L71","e":"WW","v":1.98},{"t":"RNL","p":"L61/L71","e":"WS","v":0.81},
      {"t":"RNL","p":"L61/L65","e":"WW","v":-2.14},{"t":"RNL","p":"L61/L65","e":"WS","v":-0.39},
      {"t":"RNL","p":"L61/L63","e":"WW","v":-0.9},{"t":"RNL","p":"L61/L63","e":"WS","v":0.14},

      {"t":"RNV","p":"P6/P7","e":"WW","v":0.74},{"t":"RNV","p":"P6/P7","e":"WS","v":0.06},
      {"t":"RNV","p":"P3/P7","e":"WW","v":-1.38},{"t":"RNV","p":"P3/P7","e":"WS","v":0.06},
      {"t":"RNV","p":"P3/P6","e":"WW","v":0.21},{"t":"RNV","p":"P3/P6","e":"WS","v":0.1},
      {"t":"RNV","p":"P2/P7","e":"WW","v":-0.84},{"t":"RNV","p":"P2/P7","e":"WS","v":-1.0},
      {"t":"RNV","p":"P2/P6","e":"WW","v":0.74},{"t":"RNV","p":"P2/P6","e":"WS","v":1.35},
      {"t":"RNV","p":"P2/P3","e":"WW","v":-0.71},{"t":"RNV","p":"P2/P3","e":"WS","v":-0.96},
      {"t":"RNV","p":"L76/P7","e":"WW","v":-1.58},{"t":"RNV","p":"L76/P7","e":"WS","v":-0.55},
      {"t":"RNV","p":"L76/P6","e":"WW","v":0.33},{"t":"RNV","p":"L76/P6","e":"WS","v":-0.19},
      {"t":"RNV","p":"L76/P3","e":"WW","v":1.19},{"t":"RNV","p":"L76/P3","e":"WS","v":0.16},
      {"t":"RNV","p":"L76/P2","e":"WW","v":-0.92},{"t":"RNV","p":"L76/P2","e":"WS","v":0.06},
      {"t":"RNV","p":"L75/P7","e":"WW","v":0.94},{"t":"RNV","p":"L75/P7","e":"WS","v":0.56},
      {"t":"RNV","p":"L75/P6","e":"WW","v":-0.12},{"t":"RNV","p":"L75/P6","e":"WS","v":1.25},
      {"t":"RNV","p":"L75/P3","e":"WW","v":0.72},{"t":"RNV","p":"L75/P3","e":"WS","v":-0.71},
      {"t":"RNV","p":"L75/P2","e":"WW","v":-0.04},{"t":"RNV","p":"L75/P2","e":"WS","v":1.19},
      {"t":"RNV","p":"L75/L76","e":"WW","v":-0.14},{"t":"RNV","p":"L75/L76","e":"WS","v":-0.015},
      {"t":"RNV","p":"L71/P7","e":"WW","v":1.57},{"t":"RNV","p":"L71/P7","e":"WS","v":1.09},
      {"t":"RNV","p":"L71/P6","e":"WW","v":-4.57},{"t":"RNV","p":"L71/P6","e":"WS","v":-3.76},
      {"t":"RNV","p":"L71/P3","e":"WW","v":1.36},{"t":"RNV","p":"L71/P3","e":"WS","v":1.14},
      {"t":"RNV","p":"L71/P2","e":"WW","v":-0.08},{"t":"RNV","p":"L71/P2","e":"WS","v":-0.93},
      {"t":"RNV","p":"L71/L76","e":"WW","v":-0.16},{"t":"RNV","p":"L71/L76","e":"WS","v":0.51},
      {"t":"RNV","p":"L71/L75","e":"WW","v":1.04},{"t":"RNV","p":"L71/L75","e":"WS","v":0.64},
      {"t":"RNV","p":"L65/P7","e":"WW","v":-1.25},{"t":"RNV","p":"L65/P7","e":"WS","v":-0.55},
      {"t":"RNV","p":"L65/P6","e":"WW","v":0.66},{"t":"RNV","p":"L65/P6","e":"WS","v":0.47},
      {"t":"RNV","p":"L65/P3","e":"WW","v":-0.14},{"t":"RNV","p":"L65/P3","e":"WS","v":0.16},
      {"t":"RNV","p":"L65/P2","e":"WW","v":-0.6},{"t":"RNV","p":"L65/P2","e":"WS","v":-0.26},
      {"t":"RNV","p":"L65/L76","e":"WW","v":-0.35},{"t":"RNV","p":"L65/L76","e":"WS","v":-0.14},
      {"t":"RNV","p":"L65/L75","e":"WW","v":2.17},{"t":"RNV","p":"L65/L75","e":"WS","v":0.31},
      {"t":"RNV","p":"L65/L71","e":"WW","v":0.83},{"t":"RNV","p":"L65/L71","e":"WS","v":0.18},
      {"t":"RNV","p":"L63/P7","e":"WW","v":0.48},{"t":"RNV","p":"L63/P7","e":"WS","v":0.48},
      {"t":"RNV","p":"L63/P6","e":"WW","v":1.41},{"t":"RNV","p":"L63/P6","e":"WS","v":-0.14},
      {"t":"RNV","p":"L63/P3","e":"WW","v":0.27},{"t":"RNV","p":"L63/P3","e":"WS","v":0.53},
      {"t":"RNV","p":"L63/P2","e":"WW","v":1.47},{"t":"RNV","p":"L63/P2","e":"WS","v":-1.21},
      {"t":"RNV","p":"L63/L76","e":"WW","v":0.39},{"t":"RNV","p":"L63/L76","e":"WS","v":0.23},
      {"t":"RNV","p":"L63/L75","e":"WW","v":-1.7},{"t":"RNV","p":"L63/L75","e":"WS","v":-0.64},
      {"t":"RNV","p":"L63/L71","e":"WW","v":-1.4},{"t":"RNV","p":"L63/L71","e":"WS","v":0.55},
      {"t":"RNV","p":"L63/L65","e":"WW","v":-0.26},{"t":"RNV","p":"L63/L65","e":"WS","v":0.23},
      {"t":"RNV","p":"L61/P7","e":"WW","v":1.38},{"t":"RNV","p":"L61/P7","e":"WS","v":-0.09},
      {"t":"RNV","p":"L61/P6","e":"WW","v":0.66},{"t":"RNV","p":"L61/P6","e":"WS","v":0.92},
      {"t":"RNV","p":"L61/P3","e":"WW","v":-1.46},{"t":"RNV","p":"L61/P3","e":"WS","v":-0.39},
      {"t":"RNV","p":"L61/P2","e":"WW","v":1.06},{"t":"RNV","p":"L61/P2","e":"WS","v":1.83},
      {"t":"RNV","p":"L61/L76","e":"WW","v":1.3},{"t":"RNV","p":"L61/L76","e":"WS","v":-0.015},
      {"t":"RNV","p":"L61/L75","e":"WW","v":-2.77},{"t":"RNV","p":"L61/L75","e":"WS","v":-2.53},
      {"t":"RNV","p":"L61/L71","e":"WW","v":1.47},{"t":"RNV","p":"L61/L71","e":"WS","v":0.64},
      {"t":"RNV","p":"L61/L65","e":"WW","v":-1.0},{"t":"RNV","p":"L61/L65","e":"WS","v":-0.33},
      {"t":"RNV","p":"L61/L63","e":"WW","v":-0.6},{"t":"RNV","p":"L61/L63","e":"WS","v":0.03},

      {"t":"RSL","p":"P6/P7","e":"WW","v":-1.3},{"t":"RSL","p":"P6/P7","e":"WS","v":-1.61},
      {"t":"RSL","p":"P3/P7","e":"WW","v":-2.18},{"t":"RSL","p":"P3/P7","e":"WS","v":-0.74},
      {"t":"RSL","p":"P3/P6","e":"WW","v":0.83},{"t":"RSL","p":"P3/P6","e":"WS","v":-0.02},
      {"t":"RSL","p":"P2/P7","e":"WW","v":0.17},{"t":"RSL","p":"P2/P7","e":"WS","v":-0.91},
      {"t":"RSL","p":"P2/P6","e":"WW","v":-0.97},{"t":"RSL","p":"P2/P6","e":"WS","v":0.62},
      {"t":"RSL","p":"P2/P3","e":"WW","v":-0.52},{"t":"RSL","p":"P2/P3","e":"WS","v":-0.66},
      {"t":"RSL","p":"L76/P7","e":"WW","v":-0.55},{"t":"RSL","p":"L76/P7","e":"WS","v":-0.06},
      {"t":"RSL","p":"L76/P6","e":"WW","v":-0.59},{"t":"RSL","p":"L76/P6","e":"WS","v":-0.06},
      {"t":"RSL","p":"L76/P3","e":"WW","v":1.07},{"t":"RSL","p":"L76/P3","e":"WS","v":0.24},
      {"t":"RSL","p":"L76/P2","e":"WW","v":-0.29},{"t":"RSL","p":"L76/P2","e":"WS","v":-0.44},
      {"t":"RSL","p":"L75/P7","e":"WW","v":2.59},{"t":"RSL","p":"L75/P7","e":"WS","v":0.55},
      {"t":"RSL","p":"L75/P6","e":"WW","v":-1.42},{"t":"RSL","p":"L75/P6","e":"WS","v":2.61},
      {"t":"RSL","p":"L75/P3","e":"WW","v":0.73},{"t":"RSL","p":"L75/P3","e":"WS","v":-2.02},
      {"t":"RSL","p":"L75/P2","e":"WW","v":1.1},{"t":"RSL","p":"L75/P2","e":"WS","v":1.75},
      {"t":"RSL","p":"L75/L76","e":"WW","v":-1.3},{"t":"RSL","p":"L75/L76","e":"WS","v":-0.38},
      {"t":"RSL","p":"L71/P7","e":"WW","v":1.88},{"t":"RSL","p":"L71/P7","e":"WS","v":2.69},
      {"t":"RSL","p":"L71/P6","e":"WW","v":1.57},{"t":"RSL","p":"L71/P6","e":"WS","v":-4.49},
      {"t":"RSL","p":"L71/P3","e":"WW","v":2.56},{"t":"RSL","p":"L71/P3","e":"WS","v":0.68},
      {"t":"RSL","p":"L71/P2","e":"WW","v":-1.44},{"t":"RSL","p":"L71/P2","e":"WS","v":-0.77},
      {"t":"RSL","p":"L71/L76","e":"WW","v":-1.58},{"t":"RSL","p":"L71/L76","e":"WS","v":0.11},
      {"t":"RSL","p":"L71/L75","e":"WW","v":-1.12},{"t":"RSL","p":"L71/L75","e":"WS","v":1.36},
      {"t":"RSL","p":"L65/P7","e":"WW","v":-0.96},{"t":"RSL","p":"L65/P7","e":"WS","v":-0.39},
      {"t":"RSL","p":"L65/P6","e":"WW","v":1.17},{"t":"RSL","p":"L65/P6","e":"WS","v":1.72},
      {"t":"RSL","p":"L65/P3","e":"WW","v":-1.49},{"t":"RSL","p":"L65/P3","e":"WS","v":0.44},
      {"t":"RSL","p":"L65/P2","e":"WW","v":0.52},{"t":"RSL","p":"L65/P2","e":"WS","v":0.98},
      {"t":"RSL","p":"L65/L76","e":"WW","v":0.94},{"t":"RSL","p":"L65/L76","e":"WS","v":-0.63},
      {"t":"RSL","p":"L65/L75","e":"WW","v":1.44},{"t":"RSL","p":"L65/L75","e":"WS","v":-1.34},
      {"t":"RSL","p":"L65/L71","e":"WW","v":1.97},{"t":"RSL","p":"L65/L71","e":"WS","v":0.89},
      {"t":"RSL","p":"L63/P7","e":"WW","v":1.24},{"t":"RSL","p":"L63/P7","e":"WS","v":1.72},
      {"t":"RSL","p":"L63/P6","e":"WW","v":1.3},{"t":"RSL","p":"L63/P6","e":"WS","v":-0.25},
      {"t":"RSL","p":"L63/P3","e":"WW","v":1.54},{"t":"RSL","p":"L63/P3","e":"WS","v":2.09},
      {"t":"RSL","p":"L63/P2","e":"WW","v":2.15},{"t":"RSL","p":"L63/P2","e":"WS","v":-1.41},
      {"t":"RSL","p":"L63/L76","e":"WW","v":0.73},{"t":"RSL","p":"L63/L76","e":"WS","v":0.58},
      {"t":"RSL","p":"L63/L75","e":"WW","v":-2.26},{"t":"RSL","p":"L63/L75","e":"WS","v":-1.65},
      {"t":"RSL","p":"L63/L71","e":"WW","v":-5.01},{"t":"RSL","p":"L63/L71","e":"WS","v":-0.44},
      {"t":"RSL","p":"L63/L65","e":"WW","v":-2.04},{"t":"RSL","p":"L63/L65","e":"WS","v":-0.3},
      {"t":"RSL","p":"L61/P7","e":"WW","v":-0.75},{"t":"RSL","p":"L61/P7","e":"WS","v":-1.11},
      {"t":"RSL","p":"L61/P6","e":"WW","v":-0.46},{"t":"RSL","p":"L61/P6","e":"WS","v":1.59},
      {"t":"RSL","p":"L61/P3","e":"WW","v":-2.42},{"t":"RSL","p":"L61/P3","e":"WS","v":0.08},
      {"t":"RSL","p":"L61/P2","e":"WW","v":-0.6},{"t":"RSL","p":"L61/P2","e":"WS","v":0.97},
      {"t":"RSL","p":"L61/L76","e":"WW","v":1.69},{"t":"RSL","p":"L61/L76","e":"WS","v":0.73},
      {"t":"RSL","p":"L61/L75","e":"WW","v":0.35},{"t":"RSL","p":"L61/L75","e":"WS","v":-0.78},
      {"t":"RSL","p":"L61/L71","e":"WW","v":1.3},{"t":"RSL","p":"L61/L71","e":"WS","v":0.07},
      {"t":"RSL","p":"L61/L65","e":"WW","v":-1.42},{"t":"RSL","p":"L61/L65","e":"WS","v":-1.24},
      {"t":"RSL","p":"L61/L63","e":"WW","v":2.45},{"t":"RSL","p":"L61/L63","e":"WS","v":-0.22},

      {"t":"SDW","p":"P6/P7","e":"WW","v":0.007},{"t":"SDW","p":"P6/P7","e":"WS","v":-0.0068},
      {"t":"SDW","p":"P3/P7","e":"WW","v":-0.0038},{"t":"SDW","p":"P3/P7","e":"WS","v":-0.019},
      {"t":"SDW","p":"P3/P6","e":"WW","v":-0.012},{"t":"SDW","p":"P3/P6","e":"WS","v":-0.0068},
      {"t":"SDW","p":"P2/P7","e":"WW","v":-0.015},{"t":"SDW","p":"P2/P7","e":"WS","v":-0.001},
      {"t":"SDW","p":"P2/P6","e":"WW","v":-0.0038},{"t":"SDW","p":"P2/P6","e":"WS","v":0.0063},
      {"t":"SDW","p":"P2/P3","e":"WW","v":-0.0128},{"t":"SDW","p":"P2/P3","e":"WS","v":-0.018},
      {"t":"SDW","p":"L76/P7","e":"WW","v":-0.019},{"t":"SDW","p":"L76/P7","e":"WS","v":-0.0038},
      {"t":"SDW","p":"L76/P6","e":"WW","v":0.0013},{"t":"SDW","p":"L76/P6","e":"WS","v":0.0927},
      {"t":"SDW","p":"L76/P3","e":"WW","v":-0.0068},{"t":"SDW","p":"L76/P3","e":"WS","v":-0.019},
      {"t":"SDW","p":"L76/P2","e":"WW","v":-0.019},{"t":"SDW","p":"L76/P2","e":"WS","v":-0.0168},
      {"t":"SDW","p":"L75/P7","e":"WW","v":0.0013},{"t":"SDW","p":"L75/P7","e":"WS","v":0.0093},
      {"t":"SDW","p":"L75/P6","e":"WW","v":0.0595},{"t":"SDW","p":"L75/P6","e":"WS","v":0.0063},
      {"t":"SDW","p":"L75/P3","e":"WW","v":0.0103},{"t":"SDW","p":"L75/P3","e":"WS","v":-0.0168},
      {"t":"SDW","p":"L75/P2","e":"WW","v":0.0153},{"t":"SDW","p":"L75/P2","e":"WS","v":0.0183},
      {"t":"SDW","p":"L75/L76","e":"WW","v":0.0073},{"t":"SDW","p":"L75/L76","e":"WS","v":-0.0068},
      {"t":"SDW","p":"L71/P7","e":"WW","v":0.0153},{"t":"SDW","p":"L71/P7","e":"WS","v":0.0183},
      {"t":"SDW","p":"L71/P6","e":"WW","v":-0.136},{"t":"SDW","p":"L71/P6","e":"WS","v":-0.059},
      {"t":"SDW","p":"L71/P3","e":"WW","v":0.0535},{"t":"SDW","p":"L71/P3","e":"WS","v":0.0565},
      {"t":"SDW","p":"L71/P2","e":"WW","v":0.0204},{"t":"SDW","p":"L71/P2","e":"WS","v":-0.0078},
      {"t":"SDW","p":"L71/L76","e":"WW","v":-0.0108},{"t":"SDW","p":"L71/L76","e":"WS","v":-0.0259},
      {"t":"SDW","p":"L71/L75","e":"WW","v":0.0244},{"t":"SDW","p":"L71/L75","e":"WS","v":0.0053},
      {"t":"SDW","p":"L65/P7","e":"WW","v":-0.0018},{"t":"SDW","p":"L65/P7","e":"WS","v":0.0053},
      {"t":"SDW","p":"L65/P6","e":"WW","v":0.0133},{"t":"SDW","p":"L65/P6","e":"WS","v":-0.0068},
      {"t":"SDW","p":"L65/P3","e":"WW","v":0.0033},{"t":"SDW","p":"L65/P3","e":"WS","v":0.0093},
      {"t":"SDW","p":"L65/P2","e":"WW","v":-0.0048},{"t":"SDW","p":"L65/P2","e":"WS","v":0.0053},
      {"t":"SDW","p":"L65/L76","e":"WW","v":0.0123},{"t":"SDW","p":"L65/L76","e":"WS","v":-0.0018},
      {"t":"SDW","p":"L65/L75","e":"WW","v":0.0204},{"t":"SDW","p":"L65/L75","e":"WS","v":-0.0008},
      {"t":"SDW","p":"L65/L71","e":"WW","v":-0.0018},{"t":"SDW","p":"L65/L71","e":"WS","v":0.0093},
      {"t":"SDW","p":"L63/P7","e":"WW","v":0},{"t":"SDW","p":"L63/P7","e":"WS","v":0.0123},
      {"t":"SDW","p":"L63/P6","e":"WW","v":0.0224},{"t":"SDW","p":"L63/P6","e":"WS","v":-0.0269},
      {"t":"SDW","p":"L63/P3","e":"WW","v":0.0063},{"t":"SDW","p":"L63/P3","e":"WS","v":0.0103},
      {"t":"SDW","p":"L63/P2","e":"WW","v":-0.0088},{"t":"SDW","p":"L63/P2","e":"WS","v":-0.0128},
      {"t":"SDW","p":"L63/L76","e":"WW","v":0.0204},{"t":"SDW","p":"L63/L76","e":"WS","v":-0.0008},
      {"t":"SDW","p":"L63/L75","e":"WW","v":-0.049},{"t":"SDW","p":"L63/L75","e":"WS","v":0.0023},
      {"t":"SDW","p":"L63/L71","e":"WW","v":0.0163},{"t":"SDW","p":"L63/L71","e":"WS","v":0.0053},
      {"t":"SDW","p":"L63/L65","e":"WW","v":-0.0168},{"t":"SDW","p":"L63/L65","e":"WS","v":-0.0078},
      {"t":"SDW","p":"L61/P7","e":"WW","v":0.0163},{"t":"SDW","p":"L61/P7","e":"WS","v":-0.0138},
      {"t":"SDW","p":"L61/P6","e":"WW","v":0.0505},{"t":"SDW","p":"L61/P6","e":"WS","v":0.0053},
      {"t":"SDW","p":"L61/P3","e":"WW","v":-0.035},{"t":"SDW","p":"L61/P3","e":"WS","v":0.0053},
      {"t":"SDW","p":"L61/P2","e":"WW","v":0.0294},{"t":"SDW","p":"L61/P2","e":"WS","v":0.0284},
      {"t":"SDW","p":"L61/L76","e":"WW","v":0.0163},{"t":"SDW","p":"L61/L76","e":"WS","v":-0.0158},
      {"t":"SDW","p":"L61/L75","e":"WW","v":-0.0872},{"t":"SDW","p":"L61/L75","e":"WS","v":-0.0168},
      {"t":"SDW","p":"L61/L71","e":"WW","v":0.0214},{"t":"SDW","p":"L61/L71","e":"WS","v":-0.0008},
      {"t":"SDW","p":"L61/L65","e":"WW","v":-0.0219},{"t":"SDW","p":"L61/L65","e":"WS","v":-0.0098},
      {"t":"SDW","p":"L61/L63","e":"WW","v":0.0113},{"t":"SDW","p":"L61/L63","e":"WS","v":0.0214},

      {"t":"SL","p":"P6/P7","e":"WW","v":0.06},{"t":"SL","p":"P6/P7","e":"WS","v":-0.17},
      {"t":"SL","p":"P3/P7","e":"WW","v":-0.08},{"t":"SL","p":"P3/P7","e":"WS","v":-0.24},
      {"t":"SL","p":"P3/P6","e":"WW","v":-0.03},{"t":"SL","p":"P3/P6","e":"WS","v":0.17},
      {"t":"SL","p":"P2/P7","e":"WW","v":0.37},{"t":"SL","p":"P2/P7","e":"WS","v":0.48},
      {"t":"SL","p":"P2/P6","e":"WW","v":0.21},{"t":"SL","p":"P2/P6","e":"WS","v":0.54},
      {"t":"SL","p":"P2/P3","e":"WW","v":-0.04},{"t":"SL","p":"P2/P3","e":"WS","v":-0.34},
      {"t":"SL","p":"L76/P7","e":"WW","v":0.31},{"t":"SL","p":"L76/P7","e":"WS","v":0.18},
      {"t":"SL","p":"L76/P6","e":"WW","v":1.26},{"t":"SL","p":"L76/P6","e":"WS","v":1.11},
      {"t":"SL","p":"L76/P3","e":"WW","v":-0.08},{"t":"SL","p":"L76/P3","e":"WS","v":-0.55},
      {"t":"SL","p":"L76/P2","e":"WW","v":-0.18},{"t":"SL","p":"L76/P2","e":"WS","v":0.25},
      {"t":"SL","p":"L75/P7","e":"WW","v":0.41},{"t":"SL","p":"L75/P7","e":"WS","v":-0.27},
      {"t":"SL","p":"L75/P6","e":"WW","v":0.49},{"t":"SL","p":"L75/P6","e":"WS","v":-0.39},
      {"t":"SL","p":"L75/P3","e":"WW","v":-0.52},{"t":"SL","p":"L75/P3","e":"WS","v":-1.22},
      {"t":"SL","p":"L75/P2","e":"WW","v":1.15},{"t":"SL","p":"L75/P2","e":"WS","v":0.74},
      {"t":"SL","p":"L75/L76","e":"WW","v":-0.4},{"t":"SL","p":"L75/L76","e":"WS","v":-0.53},
      {"t":"SL","p":"L71/P7","e":"WW","v":1.23},{"t":"SL","p":"L71/P7","e":"WS","v":0.78},
      {"t":"SL","p":"L71/P6","e":"WW","v":-2.17},{"t":"SL","p":"L71/P6","e":"WS","v":-0.76},
      {"t":"SL","p":"L71/P3","e":"WW","v":1.9},{"t":"SL","p":"L71/P3","e":"WS","v":0.87},
      {"t":"SL","p":"L71/P2","e":"WW","v":0.18},{"t":"SL","p":"L71/P2","e":"WS","v":-0.57},
      {"t":"SL","p":"L71/L76","e":"WW","v":0.14},{"t":"SL","p":"L71/L76","e":"WS","v":0.07},
      {"t":"SL","p":"L71/L75","e":"WW","v":-0.05},{"t":"SL","p":"L71/L75","e":"WS","v":-0.77},
      {"t":"SL","p":"L65/P7","e":"WW","v":0.26},{"t":"SL","p":"L65/P7","e":"WS","v":0.04},
      {"t":"SL","p":"L65/P6","e":"WW","v":0.82},{"t":"SL","p":"L65/P6","e":"WS","v":0.46},
      {"t":"SL","p":"L65/P3","e":"WW","v":0.74},{"t":"SL","p":"L65/P3","e":"WS","v":0.06},
      {"t":"SL","p":"L65/P2","e":"WW","v":0},{"t":"SL","p":"L65/P2","e":"WS","v":0.18},
      {"t":"SL","p":"L65/L76","e":"WW","v":0.23},{"t":"SL","p":"L65/L76","e":"WS","v":0.08},
      {"t":"SL","p":"L65/L75","e":"WW","v":0.39},{"t":"SL","p":"L65/L75","e":"WS","v":-0.99},
      {"t":"SL","p":"L65/L71","e":"WW","v":0.74},{"t":"SL","p":"L65/L71","e":"WS","v":1.06},
      {"t":"SL","p":"L63/P7","e":"WW","v":-0.98},{"t":"SL","p":"L63/P7","e":"WS","v":0.46},
      {"t":"SL","p":"L63/P6","e":"WW","v":-0.37},{"t":"SL","p":"L63/P6","e":"WS","v":-1.0},
      {"t":"SL","p":"L63/P3","e":"WW","v":-0.4},{"t":"SL","p":"L63/P3","e":"WS","v":0.31},
      {"t":"SL","p":"L63/P2","e":"WW","v":-0.69},{"t":"SL","p":"L63/P2","e":"WS","v":-0.84},
      {"t":"SL","p":"L63/L76","e":"WW","v":-0.43},{"t":"SL","p":"L63/L76","e":"WS","v":-0.1},
      {"t":"SL","p":"L63/L75","e":"WW","v":-0.87},{"t":"SL","p":"L63/L75","e":"WS","v":1.54},
      {"t":"SL","p":"L63/L71","e":"WW","v":-1.67},{"t":"SL","p":"L63/L71","e":"WS","v":-0.17},
      {"t":"SL","p":"L63/L65","e":"WW","v":-1.72},{"t":"SL","p":"L63/L65","e":"WS","v":-0.24},
      {"t":"SL","p":"L61/P7","e":"WW","v":-1.51},{"t":"SL","p":"L61/P7","e":"WS","v":-1.22},
      {"t":"SL","p":"L61/P6","e":"WW","v":-0.21},{"t":"SL","p":"L61/P6","e":"WS","v":0.12},
      {"t":"SL","p":"L61/P3","e":"WW","v":-1.47},{"t":"SL","p":"L61/P3","e":"WS","v":1.01},
      {"t":"SL","p":"L61/P2","e":"WW","v":-0.94},{"t":"SL","p":"L61/P2","e":"WS","v":-0.37},
      {"t":"SL","p":"L61/L76","e":"WW","v":-0.79},{"t":"SL","p":"L61/L76","e":"WS","v":-0.46},
      {"t":"SL","p":"L61/L75","e":"WW","v":-0.54},{"t":"SL","p":"L61/L75","e":"WS","v":1.95},
      {"t":"SL","p":"L61/L71","e":"WW","v":-0.26},{"t":"SL","p":"L61/L71","e":"WS","v":-0.46},
      {"t":"SL","p":"L61/L65","e":"WW","v":-1.4},{"t":"SL","p":"L61/L65","e":"WS","v":-0.64},
      {"t":"SL","p":"L61/L63","e":"WW","v":7.17},{"t":"SL","p":"L61/L63","e":"WS","v":0.11},

      {"t":"SRL","p":"P6/P7","e":"WW","v":0.3},{"t":"SRL","p":"P6/P7","e":"WS","v":0},
      {"t":"SRL","p":"P3/P7","e":"WW","v":8.5},{"t":"SRL","p":"P3/P7","e":"WS","v":5.0},
      {"t":"SRL","p":"P3/P6","e":"WW","v":-9.6},{"t":"SRL","p":"P3/P6","e":"WS","v":-8.5},
      {"t":"SRL","p":"P2/P7","e":"WW","v":5.0},{"t":"SRL","p":"P2/P7","e":"WS","v":13.8},
      {"t":"SRL","p":"P2/P6","e":"WW","v":-2.8},{"t":"SRL","p":"P2/P6","e":"WS","v":-15.8},
      {"t":"SRL","p":"P2/P3","e":"WW","v":8.2},{"t":"SRL","p":"P2/P3","e":"WS","v":10.6},
      {"t":"SRL","p":"L76/P7","e":"WW","v":4.2},{"t":"SRL","p":"L76/P7","e":"WS","v":27.8},
      {"t":"SRL","p":"L76/P6","e":"WW","v":-19.5},{"t":"SRL","p":"L76/P6","e":"WS","v":-12.6},
      {"t":"SRL","p":"L76/P3","e":"WW","v":1.3},{"t":"SRL","p":"L76/P3","e":"WS","v":1.9},
      {"t":"SRL","p":"L76/P2","e":"WW","v":9.0},{"t":"SRL","p":"L76/P2","e":"WS","v":8.8},
      {"t":"SRL","p":"L75/P7","e":"WW","v":-11.4},{"t":"SRL","p":"L75/P7","e":"WS","v":-10.6},
      {"t":"SRL","p":"L75/P6","e":"WW","v":-15.7},{"t":"SRL","p":"L75/P6","e":"WS","v":-15.3},
      {"t":"SRL","p":"L75/P3","e":"WW","v":-22.3},{"t":"SRL","p":"L75/P3","e":"WS","v":-4.4},
      {"t":"SRL","p":"L75/P2","e":"WW","v":-6.9},{"t":"SRL","p":"L75/P2","e":"WS","v":-23.2},
      {"t":"SRL","p":"L75/L76","e":"WW","v":2.3},{"t":"SRL","p":"L75/L76","e":"WS","v":-4.6},
      {"t":"SRL","p":"L71/P7","e":"WW","v":-18.9},{"t":"SRL","p":"L71/P7","e":"WS","v":-23.4},
      {"t":"SRL","p":"L71/P6","e":"WW","v":93.5},{"t":"SRL","p":"L71/P6","e":"WS","v":85.7},
      {"t":"SRL","p":"L71/P3","e":"WW","v":0.1},{"t":"SRL","p":"L71/P3","e":"WS","v":-4.6},
      {"t":"SRL","p":"L71/P2","e":"WW","v":-14.3},{"t":"SRL","p":"L71/P2","e":"WS","v":6.1},
      {"t":"SRL","p":"L71/L76","e":"WW","v":1.1},{"t":"SRL","p":"L71/L76","e":"WS","v":-15.3},
      {"t":"SRL","p":"L71/L75","e":"WW","v":-12.9},{"t":"SRL","p":"L71/L75","e":"WS","v":-7.8},
      {"t":"SRL","p":"L65/P7","e":"WW","v":8.9},{"t":"SRL","p":"L65/P7","e":"WS","v":-2.8},
      {"t":"SRL","p":"L65/P6","e":"WW","v":-11.6},{"t":"SRL","p":"L65/P6","e":"WS","v":-6.5},
      {"t":"SRL","p":"L65/P3","e":"WW","v":6.2},{"t":"SRL","p":"L65/P3","e":"WS","v":-7.3},
      {"t":"SRL","p":"L65/P2","e":"WW","v":7.7},{"t":"SRL","p":"L65/P2","e":"WS","v":5.4},
      {"t":"SRL","p":"L65/L76","e":"WW","v":7.6},{"t":"SRL","p":"L65/L76","e":"WS","v":11.0},
      {"t":"SRL","p":"L65/L75","e":"WW","v":-10.8},{"t":"SRL","p":"L65/L75","e":"WS","v":-17.8},
      {"t":"SRL","p":"L65/L71","e":"WW","v":-12.5},{"t":"SRL","p":"L65/L71","e":"WS","v":-1.5},
      {"t":"SRL","p":"L63/P7","e":"WW","v":0.7},{"t":"SRL","p":"L63/P7","e":"WS","v":-3.6},
      {"t":"SRL","p":"L63/P6","e":"WW","v":-16.2},{"t":"SRL","p":"L63/P6","e":"WS","v":0.3},
      {"t":"SRL","p":"L63/P3","e":"WW","v":9.3},{"t":"SRL","p":"L63/P3","e":"WS","v":-5.0},
      {"t":"SRL","p":"L63/P2","e":"WW","v":3.7},{"t":"SRL","p":"L63/P2","e":"WS","v":20.1},
      {"t":"SRL","p":"L63/L76","e":"WW","v":2.0},{"t":"SRL","p":"L63/L76","e":"WS","v":-20.2},
      {"t":"SRL","p":"L63/L75","e":"WW","v":13.5},{"t":"SRL","p":"L63/L75","e":"WS","v":21.0},
      {"t":"SRL","p":"L63/L71","e":"WW","v":-14.7},{"t":"SRL","p":"L63/L71","e":"WS","v":-20.2},
      {"t":"SRL","p":"L63/L65","e":"WW","v":4.0},{"t":"SRL","p":"L63/L65","e":"WS","v":12.5},
      {"t":"SRL","p":"L61/P7","e":"WW","v":1.9},{"t":"SRL","p":"L61/P7","e":"WS","v":-6.5},
      {"t":"SRL","p":"L61/P6","e":"WW","v":-19.0},{"t":"SRL","p":"L61/P6","e":"WS","v":-27.5},
      {"t":"SRL","p":"L61/P3","e":"WW","v":-2.9},{"t":"SRL","p":"L61/P3","e":"WS","v":12.2},
      {"t":"SRL","p":"L61/P2","e":"WW","v":-10.1},{"t":"SRL","p":"L61/P2","e":"WS","v":-26.4},
      {"t":"SRL","p":"L61/L76","e":"WW","v":-8.9},{"t":"SRL","p":"L61/L76","e":"WS","v":3.1},
      {"t":"SRL","p":"L61/L75","e":"WW","v":63.6},{"t":"SRL","p":"L61/L75","e":"WS","v":62.8},
      {"t":"SRL","p":"L61/L71","e":"WW","v":-21.8},{"t":"SRL","p":"L61/L71","e":"WS","v":-19.4},
      {"t":"SRL","p":"L61/L65","e":"WW","v":-0.3},{"t":"SRL","p":"L61/L65","e":"WS","v":6.5},
      {"t":"SRL","p":"L61/L63","e":"WW","v":-2.9},{"t":"SRL","p":"L61/L63","e":"WS","v":-4.9}
    ]
  },
  "spacing": 0,
  "resolve": {"scale": {"color": "shared"}, "legend": {"color": "shared"}},
  "vconcat": [
    {"spacing": 24.6, "bounds": "flush", "hconcat": [
      {"data": {"values": [{"t": "GER"}]}, "width": 307.4, "height": 67, "view": {"fill": "#D9D9D9", "stroke": "#333333", "strokeWidth": 2.3}, "mark": {"type": "text", "fontSize": 31.5, "color": "#1A1A1A", "baseline": "middle"}, "encoding": {"text": {"field": "t"}}},
      {"data": {"values": [{"t": "GSI"}]}, "width": 307.4, "height": 67, "view": {"fill": "#D9D9D9", "stroke": "#333333", "strokeWidth": 2.3}, "mark": {"type": "text", "fontSize": 31.5, "color": "#1A1A1A", "baseline": "middle"}, "encoding": {"text": {"field": "t"}}},
      {"data": {"values": [{"t": "MRN"}]}, "width": 307.4, "height": 67, "view": {"fill": "#D9D9D9", "stroke": "#333333", "strokeWidth": 2.3}, "mark": {"type": "text", "fontSize": 31.5, "color": "#1A1A1A", "baseline": "middle"}, "encoding": {"text": {"field": "t"}}},
      {"data": {"values": [{"t": "PSR"}]}, "width": 307.4, "height": 67, "view": {"fill": "#D9D9D9", "stroke": "#333333", "strokeWidth": 2.3}, "mark": {"type": "text", "fontSize": 31.5, "color": "#1A1A1A", "baseline": "middle"}, "encoding": {"text": {"field": "t"}}},
      {"data": {"values": [{"t": "RDW"}]}, "width": 307.4, "height": 67, "view": {"fill": "#D9D9D9", "stroke": "#333333", "strokeWidth": 2.3}, "mark": {"type": "text", "fontSize": 31.5, "color": "#1A1A1A", "baseline": "middle"}, "encoding": {"text": {"field": "t"}}},
      {"data": {"values": [{"t": "RNA"}]}, "width": 307.4, "height": 67, "view": {"fill": "#D9D9D9", "stroke": "#333333", "strokeWidth": 2.3}, "mark": {"type": "text", "fontSize": 31.5, "color": "#1A1A1A", "baseline": "middle"}, "encoding": {"text": {"field": "t"}}},
      {"data": {"values": [{"t": "RNL"}]}, "width": 307.4, "height": 67, "view": {"fill": "#D9D9D9", "stroke": "#333333", "strokeWidth": 2.3}, "mark": {"type": "text", "fontSize": 31.5, "color": "#1A1A1A", "baseline": "middle"}, "encoding": {"text": {"field": "t"}}},
      {"data": {"values": [{"t": "RNV"}]}, "width": 307.4, "height": 67, "view": {"fill": "#D9D9D9", "stroke": "#333333", "strokeWidth": 2.3}, "mark": {"type": "text", "fontSize": 31.5, "color": "#1A1A1A", "baseline": "middle"}, "encoding": {"text": {"field": "t"}}},
      {"data": {"values": [{"t": "RSL"}]}, "width": 307.4, "height": 67, "view": {"fill": "#D9D9D9", "stroke": "#333333", "strokeWidth": 2.3}, "mark": {"type": "text", "fontSize": 31.5, "color": "#1A1A1A", "baseline": "middle"}, "encoding": {"text": {"field": "t"}}},
      {"data": {"values": [{"t": "SDW"}]}, "width": 307.4, "height": 67, "view": {"fill": "#D9D9D9", "stroke": "#333333", "strokeWidth": 2.3}, "mark": {"type": "text", "fontSize": 31.5, "color": "#1A1A1A", "baseline": "middle"}, "encoding": {"text": {"field": "t"}}},
      {"data": {"values": [{"t": "SL"}]}, "width": 307.4, "height": 67, "view": {"fill": "#D9D9D9", "stroke": "#333333", "strokeWidth": 2.3}, "mark": {"type": "text", "fontSize": 31.5, "color": "#1A1A1A", "baseline": "middle"}, "encoding": {"text": {"field": "t"}}},
      {"data": {"values": [{"t": "SRL"}]}, "width": 307.4, "height": 67, "view": {"fill": "#D9D9D9", "stroke": "#333333", "strokeWidth": 2.3}, "mark": {"type": "text", "fontSize": 31.5, "color": "#1A1A1A", "baseline": "middle"}, "encoding": {"text": {"field": "t"}}}
    ]},
    {"spacing": 24.6, "bounds": "flush", "hconcat": [
      {"data": {"name": "d"}, "transform": [{"filter": "datum.t == 'GER'"}], "width": 307.4, "height": 1933, "mark": "bar",
       "encoding": {
         "y": {"field": "p", "type": "nominal", "sort": null, "scale": {"paddingInner": 0.1, "paddingOuter": 0.15}, "axis": {"title": null, "labelPadding": 8.4}},
         "yOffset": {"field": "e", "sort": ["WW", "WS"], "scale": {"paddingInner": 0, "paddingOuter": 0}},
         "x": {"field": "v", "type": "quantitative", "scale": {"domain": [-69.3, 27.0], "nice": false, "zero": false}, "axis": {"title": null, "values": [-50, -25, 0, 25], "labelExpr": "datum.value + ''"}},
         "color": {"field": "e", "type": "nominal", "scale": {"domain": ["WS", "WW"], "range": ["#F8766D", "#00BFC4"]}, "legend": {"title": null}}
       }},
      {"data": {"name": "d"}, "transform": [{"filter": "datum.t == 'GSI'"}], "width": 307.4, "height": 1933, "mark": "bar",
       "encoding": {
         "y": {"field": "p", "type": "nominal", "sort": null, "scale": {"paddingInner": 0.1, "paddingOuter": 0.15}, "axis": null},
         "yOffset": {"field": "e", "sort": ["WW", "WS"], "scale": {"paddingInner": 0, "paddingOuter": 0}},
         "x": {"field": "v", "type": "quantitative", "scale": {"domain": [-27.7, 34.3], "nice": false, "zero": false}, "axis": {"title": null, "values": [-20, -10, 0, 10, 20, 30], "labelExpr": "datum.value + ''"}},
         "color": {"field": "e", "type": "nominal", "scale": {"domain": ["WS", "WW"], "range": ["#F8766D", "#00BFC4"]}, "legend": {"title": null}}
       }},
      {"data": {"name": "d"}, "transform": [{"filter": "datum.t == 'MRN'"}], "width": 307.4, "height": 1933, "mark": "bar",
       "encoding": {
         "y": {"field": "p", "type": "nominal", "sort": null, "scale": {"paddingInner": 0.1, "paddingOuter": 0.15}, "axis": null},
         "yOffset": {"field": "e", "sort": ["WW", "WS"], "scale": {"paddingInner": 0, "paddingOuter": 0}},
         "x": {"field": "v", "type": "quantitative", "scale": {"domain": [-21.05, 10.75], "nice": false, "zero": false}, "axis": {"title": null, "values": [-20, -10, 0, 10], "labelExpr": "datum.value + ''"}},
         "color": {"field": "e", "type": "nominal", "scale": {"domain": ["WS", "WW"], "range": ["#F8766D", "#00BFC4"]}, "legend": {"title": null}}
       }},
      {"data": {"name": "d"}, "transform": [{"filter": "datum.t == 'PSR'"}], "width": 307.4, "height": 1933, "mark": "bar",
       "encoding": {
         "y": {"field": "p", "type": "nominal", "sort": null, "scale": {"paddingInner": 0.1, "paddingOuter": 0.15}, "axis": null},
         "yOffset": {"field": "e", "sort": ["WW", "WS"], "scale": {"paddingInner": 0, "paddingOuter": 0}},
         "x": {"field": "v", "type": "quantitative", "scale": {"domain": [-1.35, 1.52], "nice": false, "zero": false}, "axis": {"title": null, "values": [-1, -0.5, 0, 0.5, 1, 1.5], "labelExpr": "datum.value + ''"}},
         "color": {"field": "e", "type": "nominal", "scale": {"domain": ["WS", "WW"], "range": ["#F8766D", "#00BFC4"]}, "legend": {"title": null}}
       }},
      {"data": {"name": "d"}, "transform": [{"filter": "datum.t == 'RDW'"}], "width": 307.4, "height": 1933, "mark": "bar",
       "encoding": {
         "y": {"field": "p", "type": "nominal", "sort": null, "scale": {"paddingInner": 0.1, "paddingOuter": 0.15}, "axis": null},
         "yOffset": {"field": "e", "sort": ["WW", "WS"], "scale": {"paddingInner": 0, "paddingOuter": 0}},
         "x": {"field": "v", "type": "quantitative", "scale": {"domain": [-0.1047, 0.0647], "nice": false, "zero": false}, "axis": {"title": null, "values": [-0.1, -0.05, 0, 0.05], "labelExpr": "datum.value == 0 ? '0.00' : datum.value + ''"}},
         "color": {"field": "e", "type": "nominal", "scale": {"domain": ["WS", "WW"], "range": ["#F8766D", "#00BFC4"]}, "legend": {"title": null}}
       }},
      {"data": {"name": "d"}, "transform": [{"filter": "datum.t == 'RNA'"}], "width": 307.4, "height": 1933, "mark": "bar",
       "encoding": {
         "y": {"field": "p", "type": "nominal", "sort": null, "scale": {"paddingInner": 0.1, "paddingOuter": 0.15}, "axis": null},
         "yOffset": {"field": "e", "sort": ["WW", "WS"], "scale": {"paddingInner": 0, "paddingOuter": 0}},
         "x": {"field": "v", "type": "quantitative", "scale": {"domain": [-49.4, 29.0], "nice": false, "zero": false}, "axis": {"title": null, "values": [-25, 0, 25], "labelExpr": "datum.value + ''"}},
         "color": {"field": "e", "type": "nominal", "scale": {"domain": ["WS", "WW"], "range": ["#F8766D", "#00BFC4"]}, "legend": {"title": null}}
       }},
      {"data": {"name": "d"}, "transform": [{"filter": "datum.t == 'RNL'"}], "width": 307.4, "height": 1933, "mark": "bar",
       "encoding": {
         "y": {"field": "p", "type": "nominal", "sort": null, "scale": {"paddingInner": 0.1, "paddingOuter": 0.15}, "axis": null},
         "yOffset": {"field": "e", "sort": ["WW", "WS"], "scale": {"paddingInner": 0, "paddingOuter": 0}},
         "x": {"field": "v", "type": "quantitative", "scale": {"domain": [-8.06, 5.57], "nice": false, "zero": false}, "axis": {"title": null, "values": [-7.5, -5, -2.5, 0, 2.5, 5], "labelExpr": "datum.value + ''"}},
         "color": {"field": "e", "type": "nominal", "scale": {"domain": ["WS", "WW"], "range": ["#F8766D", "#00BFC4"]}, "legend": {"title": null}}
       }},
      {"data": {"name": "d"}, "transform": [{"filter": "datum.t == 'RNV'"}], "width": 307.4, "height": 1933, "mark": "bar",
       "encoding": {
         "y": {"field": "p", "type": "nominal", "sort": null, "scale": {"paddingInner": 0.1, "paddingOuter": 0.15}, "axis": null},
         "yOffset": {"field": "e", "sort": ["WW", "WS"], "scale": {"paddingInner": 0, "paddingOuter": 0}},
         "x": {"field": "v", "type": "quantitative", "scale": {"domain": [-4.91, 2.51], "nice": false, "zero": false}, "axis": {"title": null, "values": [-2.5, 0, 2.5], "labelExpr": "datum.value == 0 ? '0.0' : datum.value + ''"}},
         "color": {"field": "e", "type": "nominal", "scale": {"domain": ["WS", "WW"], "range": ["#F8766D", "#00BFC4"]}, "legend": {"title": null}}
       }},
      {"data": {"name": "d"}, "transform": [{"filter": "datum.t == 'RSL'"}], "width": 307.4, "height": 1933, "mark": "bar",
       "encoding": {
         "y": {"field": "p", "type": "nominal", "sort": null, "scale": {"paddingInner": 0.1, "paddingOuter": 0.15}, "axis": null},
         "yOffset": {"field": "e", "sort": ["WW", "WS"], "scale": {"paddingInner": 0, "paddingOuter": 0}},
         "x": {"field": "v", "type": "quantitative", "scale": {"domain": [-5.4, 3.08], "nice": false, "zero": false}, "axis": {"title": null, "values": [-5, -2.5, 0, 2.5], "labelExpr": "datum.value == 0 ? '0.0' : datum.value + ''"}},
         "color": {"field": "e", "type": "nominal", "scale": {"domain": ["WS", "WW"], "range": ["#F8766D", "#00BFC4"]}, "legend": {"title": null}}
       }},
      {"data": {"name": "d"}, "transform": [{"filter": "datum.t == 'SDW'"}], "width": 307.4, "height": 1933, "mark": "bar",
       "encoding": {
         "y": {"field": "p", "type": "nominal", "sort": null, "scale": {"paddingInner": 0.1, "paddingOuter": 0.15}, "axis": null},
         "yOffset": {"field": "e", "sort": ["WW", "WS"], "scale": {"paddingInner": 0, "paddingOuter": 0}},
         "x": {"field": "v", "type": "quantitative", "scale": {"domain": [-0.1474, 0.1041], "nice": false, "zero": false}, "axis": {"title": null, "values": [-0.1, -0.05, 0, 0.05, 0.1], "labelExpr": "datum.value + ''"}},
         "color": {"field": "e", "type": "nominal", "scale": {"domain": ["WS", "WW"], "range": ["#F8766D", "#00BFC4"]}, "legend": {"title": null}}
       }},
      {"data": {"name": "d"}, "transform": [{"filter": "datum.t == 'SL'"}], "width": 307.4, "height": 1933, "mark": "bar",
       "encoding": {
         "y": {"field": "p", "type": "nominal", "sort": null, "scale": {"paddingInner": 0.1, "paddingOuter": 0.15}, "axis": null},
         "yOffset": {"field": "e", "sort": ["WW", "WS"], "scale": {"paddingInner": 0, "paddingOuter": 0}},
         "x": {"field": "v", "type": "quantitative", "scale": {"domain": [-2.64, 7.64], "nice": false, "zero": false}, "axis": {"title": null, "values": [-2.5, 0, 2.5, 5, 7.5], "labelExpr": "datum.value == 5 ? '5.0' : datum.value + ''"}},
         "color": {"field": "e", "type": "nominal", "scale": {"domain": ["WS", "WW"], "range": ["#F8766D", "#00BFC4"]}, "legend": {"title": null}}
       }},
      {"data": {"name": "d"}, "transform": [{"filter": "datum.t == 'SRL'"}], "width": 307.4, "height": 1933, "mark": "bar",
       "encoding": {
         "y": {"field": "p", "type": "nominal", "sort": null, "scale": {"paddingInner": 0.1, "paddingOuter": 0.15}, "axis": null},
         "yOffset": {"field": "e", "sort": ["WW", "WS"], "scale": {"paddingInner": 0, "paddingOuter": 0}},
         "x": {"field": "v", "type": "quantitative", "scale": {"domain": [-33.55, 99.55], "nice": false, "zero": false}, "axis": {"title": null, "values": [-25, 0, 25, 50, 75], "labelExpr": "datum.value + ''"}},
         "color": {"field": "e", "type": "nominal", "scale": {"domain": ["WS", "WW"], "range": ["#F8766D", "#00BFC4"]}, "legend": {"title": null}}
       }}
    ]}
  ],
  "config": {
    "font": "Liberation Sans",
    "view": {"stroke": "#333333", "strokeWidth": 2.3},
    "axis": {"grid": false, "domain": false, "tickColor": "#333333", "tickWidth": 2.3, "tickSize": 10.2, "labelColor": "#4D4D4D", "labelFontSize": 29.5, "labelFont": "Liberation Sans", "labelPadding": 6.5, "labelFlush": false, "labelOverlap": false, "labelBound": false},
    "legend": {"orient": "none", "legendX": 1883, "legendY": -121, "direction": "horizontal", "symbolType": "square", "symbolSize": 4100, "symbolStrokeWidth": 0, "symbolOpacity": 1, "labelFontSize": 29.7, "labelFont": "Liberation Sans", "labelColor": "#000000", "labelOffset": 17, "columnPadding": 30, "padding": 0}
  }
}
